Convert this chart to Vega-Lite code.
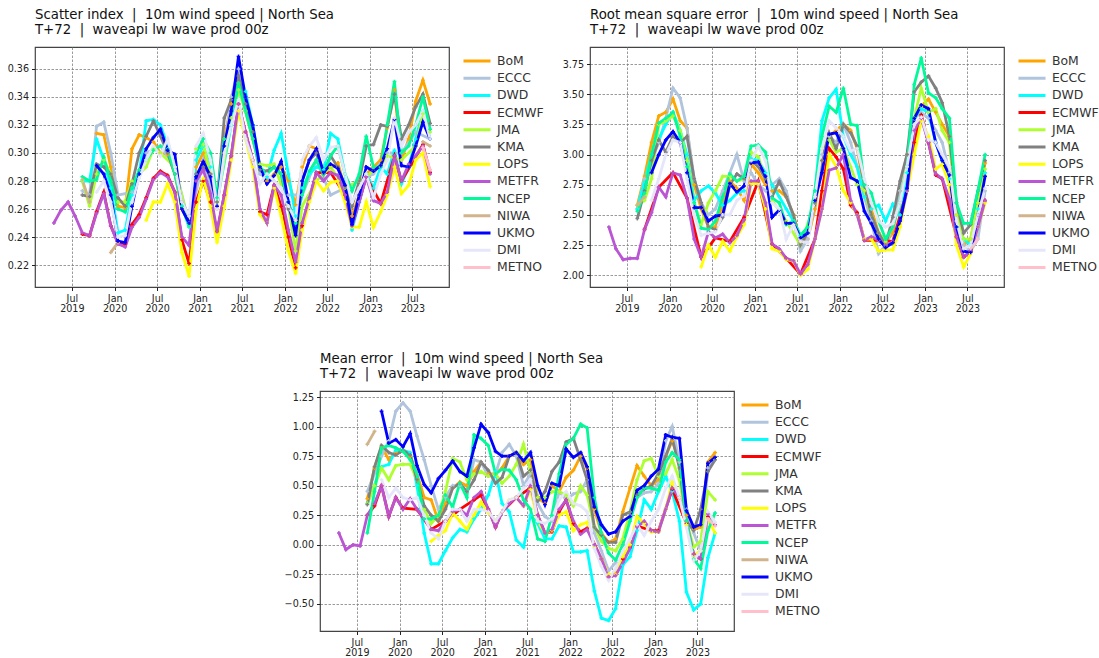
{"$schema":"https://vega.github.io/schema/vega-lite/v6.json","background":"white","padding":{"left":6,"top":7,"right":2,"bottom":2},
"config":{"font":"DejaVu Sans","view":{"stroke":"#444","strokeWidth":1.2},"title":{"anchor":"start","fontWeight":"normal","fontSize":13.3,"color":"#111","offset":10.5,"lineHeight":15,"frame":"group"},
"axis":{"title":null,"grid":true,"gridColor":"#808080","gridDash":[2.5,1.5],"gridWidth":0.8,"domain":false,"tickColor":"#222","tickSize":3.5,"labelColor":"#222","labelFontSize":9.6,"labelPadding":3,"labelLineHeight":10},
"legend":{"title":null,"orient":"right","offset":5,"padding":8,"symbolType":"stroke","symbolSize":729,"symbolStrokeWidth":3,"labelFontSize":12.4,"labelColor":"#333","labelOffset":5,"rowPadding":4.2,"clipHeight":12,"symbolOpacity":1}},
"datasets":{"si":[
{"m":"BoM","d":"2019-10-15","v":0.314},{"m":"BoM","d":"2019-11-15","v":0.313},{"m":"BoM","d":"2019-12-15","v":0.29},{"m":"BoM","d":"2020-01-15","v":0.262},{"m":"BoM","d":"2020-02-15","v":0.261},{"m":"BoM","d":"2020-03-15","v":0.303},{"m":"BoM","d":"2020-04-15","v":0.313},{"m":"BoM","d":"2020-05-15","v":0.311},{"m":"BoM","d":"2020-06-15","v":0.308},{"m":"BoM","d":"2020-07-15","v":0.3},{"m":"BoM","d":"2020-08-15","v":0.299},{"m":"BoM","d":"2020-09-15","v":0.285},{"m":"BoM","d":"2020-10-15","v":0.26},{"m":"BoM","d":"2020-11-15","v":0.25},{"m":"BoM","d":"2020-12-15","v":0.29},{"m":"BoM","d":"2021-01-15","v":0.3},{"m":"BoM","d":"2021-02-15","v":0.285},{"m":"BoM","d":"2021-03-15","v":0.26},{"m":"BoM","d":"2021-04-15","v":0.31},{"m":"BoM","d":"2021-05-15","v":0.335},{"m":"BoM","d":"2021-06-15","v":0.35},{"m":"BoM","d":"2021-07-15","v":0.33},{"m":"BoM","d":"2021-08-15","v":0.31},{"m":"BoM","d":"2021-09-15","v":0.29},{"m":"BoM","d":"2021-10-15","v":0.28},{"m":"BoM","d":"2021-11-15","v":0.285},{"m":"BoM","d":"2021-12-15","v":0.29},{"m":"BoM","d":"2022-01-15","v":0.28},{"m":"BoM","d":"2022-02-15","v":0.263},{"m":"BoM","d":"2022-03-15","v":0.29},{"m":"BoM","d":"2022-04-15","v":0.305},{"m":"BoM","d":"2022-05-15","v":0.303},{"m":"BoM","d":"2022-06-15","v":0.285},{"m":"BoM","d":"2022-07-15","v":0.29},{"m":"BoM","d":"2022-08-15","v":0.293},{"m":"BoM","d":"2022-09-15","v":0.275},{"m":"BoM","d":"2022-10-15","v":0.255},{"m":"BoM","d":"2022-11-15","v":0.27},{"m":"BoM","d":"2022-12-15","v":0.285},{"m":"BoM","d":"2023-01-15","v":0.29},{"m":"BoM","d":"2023-02-15","v":0.295},{"m":"BoM","d":"2023-03-15","v":0.318},{"m":"BoM","d":"2023-04-15","v":0.345},{"m":"BoM","d":"2023-05-15","v":0.295},{"m":"BoM","d":"2023-06-15","v":0.31},{"m":"BoM","d":"2023-07-15","v":0.337},{"m":"BoM","d":"2023-08-15","v":0.352},{"m":"BoM","d":"2023-09-15","v":0.335},
{"m":"ECCC","d":"2019-08-15","v":0.273},{"m":"ECCC","d":"2019-09-15","v":0.27},{"m":"ECCC","d":"2019-10-15","v":0.319},{"m":"ECCC","d":"2019-11-15","v":0.322},{"m":"ECCC","d":"2019-12-15","v":0.3},{"m":"ECCC","d":"2020-01-15","v":0.27},{"m":"ECCC","d":"2020-03-15","v":0.272},{"m":"ECCC","d":"2020-05-15","v":0.3},{"m":"ECCC","d":"2020-07-15","v":0.305},{"m":"ECCC","d":"2020-09-15","v":0.29},{"m":"ECCC","d":"2020-11-15","v":0.25},{"m":"ECCC","d":"2021-01-15","v":0.295},{"m":"ECCC","d":"2021-03-15","v":0.262},{"m":"ECCC","d":"2021-05-15","v":0.34},{"m":"ECCC","d":"2021-06-15","v":0.36},{"m":"ECCC","d":"2021-07-15","v":0.34},{"m":"ECCC","d":"2021-09-15","v":0.285},{"m":"ECCC","d":"2021-11-15","v":0.28},{"m":"ECCC","d":"2022-01-15","v":0.27},{"m":"ECCC","d":"2022-03-15","v":0.27},{"m":"ECCC","d":"2022-05-15","v":0.295},{"m":"ECCC","d":"2022-07-15","v":0.27},{"m":"ECCC","d":"2022-09-15","v":0.275},{"m":"ECCC","d":"2022-11-15","v":0.28},{"m":"ECCC","d":"2023-01-15","v":0.285},{"m":"ECCC","d":"2023-03-15","v":0.3},{"m":"ECCC","d":"2023-05-15","v":0.3},{"m":"ECCC","d":"2023-07-15","v":0.315},{"m":"ECCC","d":"2023-09-15","v":0.31},
{"m":"DWD","d":"2019-08-15","v":0.28},{"m":"DWD","d":"2019-09-15","v":0.28},{"m":"DWD","d":"2019-10-15","v":0.31},{"m":"DWD","d":"2019-11-15","v":0.295},{"m":"DWD","d":"2019-12-15","v":0.275},{"m":"DWD","d":"2020-01-15","v":0.243},{"m":"DWD","d":"2020-02-15","v":0.245},{"m":"DWD","d":"2020-03-15","v":0.27},{"m":"DWD","d":"2020-04-15","v":0.285},{"m":"DWD","d":"2020-05-15","v":0.323},{"m":"DWD","d":"2020-06-15","v":0.324},{"m":"DWD","d":"2020-07-15","v":0.32},{"m":"DWD","d":"2020-09-15","v":0.29},{"m":"DWD","d":"2020-10-15","v":0.262},{"m":"DWD","d":"2020-11-15","v":0.247},{"m":"DWD","d":"2020-12-15","v":0.295},{"m":"DWD","d":"2021-01-15","v":0.305},{"m":"DWD","d":"2021-02-15","v":0.29},{"m":"DWD","d":"2021-03-15","v":0.265},{"m":"DWD","d":"2021-05-15","v":0.32},{"m":"DWD","d":"2021-06-15","v":0.345},{"m":"DWD","d":"2021-07-15","v":0.344},{"m":"DWD","d":"2021-08-15","v":0.32},{"m":"DWD","d":"2021-09-15","v":0.29},{"m":"DWD","d":"2021-10-15","v":0.283},{"m":"DWD","d":"2021-11-15","v":0.302},{"m":"DWD","d":"2021-12-15","v":0.314},{"m":"DWD","d":"2022-01-15","v":0.285},{"m":"DWD","d":"2022-02-15","v":0.255},{"m":"DWD","d":"2022-03-15","v":0.275},{"m":"DWD","d":"2022-04-15","v":0.285},{"m":"DWD","d":"2022-05-15","v":0.29},{"m":"DWD","d":"2022-06-15","v":0.288},{"m":"DWD","d":"2022-07-15","v":0.314},{"m":"DWD","d":"2022-08-15","v":0.31},{"m":"DWD","d":"2022-09-15","v":0.285},{"m":"DWD","d":"2022-10-15","v":0.245},{"m":"DWD","d":"2022-11-15","v":0.265},{"m":"DWD","d":"2022-12-15","v":0.285},{"m":"DWD","d":"2023-01-15","v":0.275},{"m":"DWD","d":"2023-02-15","v":0.29},{"m":"DWD","d":"2023-03-15","v":0.285},{"m":"DWD","d":"2023-04-15","v":0.302},{"m":"DWD","d":"2023-05-15","v":0.278},{"m":"DWD","d":"2023-06-15","v":0.29},{"m":"DWD","d":"2023-07-15","v":0.31},{"m":"DWD","d":"2023-08-15","v":0.33},{"m":"DWD","d":"2023-09-15","v":0.31},
{"m":"ECMWF","d":"2019-08-15","v":0.242},{"m":"ECMWF","d":"2019-09-15","v":0.241},{"m":"ECMWF","d":"2019-10-15","v":0.258},{"m":"ECMWF","d":"2019-11-15","v":0.272},{"m":"ECMWF","d":"2019-12-15","v":0.248},{"m":"ECMWF","d":"2020-01-15","v":0.236},{"m":"ECMWF","d":"2020-02-15","v":0.235},{"m":"ECMWF","d":"2020-03-15","v":0.249},{"m":"ECMWF","d":"2020-04-15","v":0.256},{"m":"ECMWF","d":"2020-05-15","v":0.268},{"m":"ECMWF","d":"2020-06-15","v":0.282},{"m":"ECMWF","d":"2020-07-15","v":0.287},{"m":"ECMWF","d":"2020-08-15","v":0.284},{"m":"ECMWF","d":"2020-09-15","v":0.272},{"m":"ECMWF","d":"2020-10-15","v":0.238},{"m":"ECMWF","d":"2020-11-15","v":0.221},{"m":"ECMWF","d":"2020-12-15","v":0.265},{"m":"ECMWF","d":"2021-01-15","v":0.28},{"m":"ECMWF","d":"2021-02-15","v":0.265},{"m":"ECMWF","d":"2021-03-15","v":0.244},{"m":"ECMWF","d":"2021-04-15","v":0.27},{"m":"ECMWF","d":"2021-05-15","v":0.298},{"m":"ECMWF","d":"2021-06-15","v":0.335},{"m":"ECMWF","d":"2021-07-15","v":0.315},{"m":"ECMWF","d":"2021-08-15","v":0.295},{"m":"ECMWF","d":"2021-09-15","v":0.258},{"m":"ECMWF","d":"2021-10-15","v":0.256},{"m":"ECMWF","d":"2021-11-15","v":0.277},{"m":"ECMWF","d":"2021-12-15","v":0.262},{"m":"ECMWF","d":"2022-01-15","v":0.24},{"m":"ECMWF","d":"2022-02-15","v":0.218},{"m":"ECMWF","d":"2022-03-15","v":0.248},{"m":"ECMWF","d":"2022-05-15","v":0.286},{"m":"ECMWF","d":"2022-07-15","v":0.286},{"m":"ECMWF","d":"2022-09-15","v":0.27},{"m":"ECMWF","d":"2022-10-15","v":0.248},{"m":"ECMWF","d":"2022-12-15","v":0.283},{"m":"ECMWF","d":"2023-02-15","v":0.264},{"m":"ECMWF","d":"2023-04-15","v":0.298},{"m":"ECMWF","d":"2023-05-15","v":0.28},{"m":"ECMWF","d":"2023-08-15","v":0.306},{"m":"ECMWF","d":"2023-09-15","v":0.286},
{"m":"JMA","d":"2019-08-15","v":0.28},{"m":"JMA","d":"2019-09-15","v":0.262},{"m":"JMA","d":"2019-10-15","v":0.285},{"m":"JMA","d":"2019-11-15","v":0.295},{"m":"JMA","d":"2019-12-15","v":0.285},{"m":"JMA","d":"2020-01-15","v":0.265},{"m":"JMA","d":"2020-02-15","v":0.265},{"m":"JMA","d":"2020-03-15","v":0.28},{"m":"JMA","d":"2020-05-15","v":0.29},{"m":"JMA","d":"2020-06-15","v":0.303},{"m":"JMA","d":"2020-07-15","v":0.3},{"m":"JMA","d":"2020-09-15","v":0.29},{"m":"JMA","d":"2020-11-15","v":0.248},{"m":"JMA","d":"2020-12-15","v":0.303},{"m":"JMA","d":"2021-01-15","v":0.306},{"m":"JMA","d":"2021-03-15","v":0.265},{"m":"JMA","d":"2021-05-15","v":0.325},{"m":"JMA","d":"2021-06-15","v":0.345},{"m":"JMA","d":"2021-07-15","v":0.33},{"m":"JMA","d":"2021-09-15","v":0.292},{"m":"JMA","d":"2021-10-15","v":0.291},{"m":"JMA","d":"2021-11-15","v":0.292},{"m":"JMA","d":"2022-01-15","v":0.262},{"m":"JMA","d":"2022-02-15","v":0.23},{"m":"JMA","d":"2022-03-15","v":0.262},{"m":"JMA","d":"2022-05-15","v":0.28},{"m":"JMA","d":"2022-07-15","v":0.29},{"m":"JMA","d":"2022-09-15","v":0.275},{"m":"JMA","d":"2022-11-15","v":0.28},{"m":"JMA","d":"2023-01-15","v":0.287},{"m":"JMA","d":"2023-02-15","v":0.291},{"m":"JMA","d":"2023-03-15","v":0.298},{"m":"JMA","d":"2023-05-15","v":0.295},{"m":"JMA","d":"2023-07-15","v":0.305},{"m":"JMA","d":"2023-08-15","v":0.328},{"m":"JMA","d":"2023-09-15","v":0.315},
{"m":"KMA","d":"2019-08-15","v":0.27},{"m":"KMA","d":"2019-09-15","v":0.269},{"m":"KMA","d":"2019-10-15","v":0.292},{"m":"KMA","d":"2019-11-15","v":0.29},{"m":"KMA","d":"2019-12-15","v":0.285},{"m":"KMA","d":"2020-01-15","v":0.268},{"m":"KMA","d":"2020-02-15","v":0.262},{"m":"KMA","d":"2020-03-15","v":0.278},{"m":"KMA","d":"2020-04-15","v":0.3},{"m":"KMA","d":"2020-05-15","v":0.312},{"m":"KMA","d":"2020-06-15","v":0.323},{"m":"KMA","d":"2020-07-15","v":0.312},{"m":"KMA","d":"2020-08-15","v":0.3},{"m":"KMA","d":"2020-09-15","v":0.285},{"m":"KMA","d":"2020-10-15","v":0.265},{"m":"KMA","d":"2020-11-15","v":0.255},{"m":"KMA","d":"2020-12-15","v":0.285},{"m":"KMA","d":"2021-01-15","v":0.29},{"m":"KMA","d":"2021-02-15","v":0.285},{"m":"KMA","d":"2021-03-15","v":0.265},{"m":"KMA","d":"2021-04-15","v":0.325},{"m":"KMA","d":"2021-05-15","v":0.338},{"m":"KMA","d":"2021-06-15","v":0.355},{"m":"KMA","d":"2021-07-15","v":0.335},{"m":"KMA","d":"2021-08-15","v":0.315},{"m":"KMA","d":"2021-09-15","v":0.288},{"m":"KMA","d":"2021-10-15","v":0.287},{"m":"KMA","d":"2021-11-15","v":0.29},{"m":"KMA","d":"2021-12-15","v":0.285},{"m":"KMA","d":"2022-01-15","v":0.26},{"m":"KMA","d":"2022-02-15","v":0.252},{"m":"KMA","d":"2022-03-15","v":0.28},{"m":"KMA","d":"2022-04-15","v":0.295},{"m":"KMA","d":"2022-05-15","v":0.3},{"m":"KMA","d":"2022-06-15","v":0.285},{"m":"KMA","d":"2022-07-15","v":0.298},{"m":"KMA","d":"2022-08-15","v":0.29},{"m":"KMA","d":"2022-09-15","v":0.275},{"m":"KMA","d":"2022-10-15","v":0.262},{"m":"KMA","d":"2022-11-15","v":0.28},{"m":"KMA","d":"2022-12-15","v":0.305},{"m":"KMA","d":"2023-01-15","v":0.306},{"m":"KMA","d":"2023-02-15","v":0.32},{"m":"KMA","d":"2023-03-15","v":0.319},{"m":"KMA","d":"2023-04-15","v":0.342},{"m":"KMA","d":"2023-05-15","v":0.31},{"m":"KMA","d":"2023-06-15","v":0.32},{"m":"KMA","d":"2023-07-15","v":0.333},{"m":"KMA","d":"2023-08-15","v":0.342},{"m":"KMA","d":"2023-09-15","v":0.321},
{"m":"LOPS","d":"2020-05-15","v":0.252},{"m":"LOPS","d":"2020-06-15","v":0.265},{"m":"LOPS","d":"2020-07-15","v":0.265},{"m":"LOPS","d":"2020-08-15","v":0.278},{"m":"LOPS","d":"2020-09-15","v":0.265},{"m":"LOPS","d":"2020-10-15","v":0.229},{"m":"LOPS","d":"2020-11-15","v":0.212},{"m":"LOPS","d":"2020-12-15","v":0.26},{"m":"LOPS","d":"2021-01-15","v":0.282},{"m":"LOPS","d":"2021-02-15","v":0.262},{"m":"LOPS","d":"2021-03-15","v":0.236},{"m":"LOPS","d":"2021-04-15","v":0.262},{"m":"LOPS","d":"2021-05-15","v":0.295},{"m":"LOPS","d":"2021-06-15","v":0.33},{"m":"LOPS","d":"2021-07-15","v":0.31},{"m":"LOPS","d":"2021-08-15","v":0.29},{"m":"LOPS","d":"2021-09-15","v":0.256},{"m":"LOPS","d":"2021-10-15","v":0.25},{"m":"LOPS","d":"2021-11-15","v":0.275},{"m":"LOPS","d":"2021-12-15","v":0.255},{"m":"LOPS","d":"2022-01-15","v":0.23},{"m":"LOPS","d":"2022-02-15","v":0.214},{"m":"LOPS","d":"2022-03-15","v":0.245},{"m":"LOPS","d":"2022-04-15","v":0.265},{"m":"LOPS","d":"2022-05-15","v":0.28},{"m":"LOPS","d":"2022-06-15","v":0.273},{"m":"LOPS","d":"2022-07-15","v":0.279},{"m":"LOPS","d":"2022-08-15","v":0.28},{"m":"LOPS","d":"2022-09-15","v":0.265},{"m":"LOPS","d":"2022-10-15","v":0.247},{"m":"LOPS","d":"2022-11-15","v":0.247},{"m":"LOPS","d":"2022-12-15","v":0.265},{"m":"LOPS","d":"2023-01-15","v":0.247},{"m":"LOPS","d":"2023-02-15","v":0.258},{"m":"LOPS","d":"2023-03-15","v":0.27},{"m":"LOPS","d":"2023-04-15","v":0.29},{"m":"LOPS","d":"2023-05-15","v":0.271},{"m":"LOPS","d":"2023-06-15","v":0.277},{"m":"LOPS","d":"2023-07-15","v":0.295},{"m":"LOPS","d":"2023-08-15","v":0.3},{"m":"LOPS","d":"2023-09-15","v":0.276},
{"m":"METFR","d":"2019-04-15","v":0.25},{"m":"METFR","d":"2019-05-15","v":0.259},{"m":"METFR","d":"2019-06-15","v":0.265},{"m":"METFR","d":"2019-07-15","v":0.255},{"m":"METFR","d":"2019-08-15","v":0.243},{"m":"METFR","d":"2019-09-15","v":0.241},{"m":"METFR","d":"2019-10-15","v":0.257},{"m":"METFR","d":"2019-11-15","v":0.271},{"m":"METFR","d":"2019-12-15","v":0.248},{"m":"METFR","d":"2020-01-15","v":0.235},{"m":"METFR","d":"2020-02-15","v":0.233},{"m":"METFR","d":"2020-03-15","v":0.247},{"m":"METFR","d":"2020-04-15","v":0.254},{"m":"METFR","d":"2020-05-15","v":0.267},{"m":"METFR","d":"2020-06-15","v":0.281},{"m":"METFR","d":"2020-07-15","v":0.286},{"m":"METFR","d":"2020-08-15","v":0.283},{"m":"METFR","d":"2020-09-15","v":0.272},{"m":"METFR","d":"2020-10-15","v":0.24},{"m":"METFR","d":"2020-11-15","v":0.234},{"m":"METFR","d":"2020-12-15","v":0.28},{"m":"METFR","d":"2021-01-15","v":0.288},{"m":"METFR","d":"2021-02-15","v":0.271},{"m":"METFR","d":"2021-03-15","v":0.244},{"m":"METFR","d":"2021-04-15","v":0.27},{"m":"METFR","d":"2021-05-15","v":0.298},{"m":"METFR","d":"2021-06-15","v":0.335},{"m":"METFR","d":"2021-07-15","v":0.315},{"m":"METFR","d":"2021-08-15","v":0.295},{"m":"METFR","d":"2021-09-15","v":0.26},{"m":"METFR","d":"2021-10-15","v":0.25},{"m":"METFR","d":"2021-11-15","v":0.277},{"m":"METFR","d":"2021-12-15","v":0.27},{"m":"METFR","d":"2022-01-15","v":0.245},{"m":"METFR","d":"2022-02-15","v":0.222},{"m":"METFR","d":"2022-03-15","v":0.25},{"m":"METFR","d":"2022-04-15","v":0.268},{"m":"METFR","d":"2022-05-15","v":0.286},{"m":"METFR","d":"2022-06-15","v":0.28},{"m":"METFR","d":"2022-07-15","v":0.286},{"m":"METFR","d":"2022-08-15","v":0.284},{"m":"METFR","d":"2022-09-15","v":0.27},{"m":"METFR","d":"2022-10-15","v":0.248},{"m":"METFR","d":"2022-11-15","v":0.265},{"m":"METFR","d":"2022-12-15","v":0.283},{"m":"METFR","d":"2023-01-15","v":0.266},{"m":"METFR","d":"2023-02-15","v":0.264},{"m":"METFR","d":"2023-03-15","v":0.272},{"m":"METFR","d":"2023-04-15","v":0.298},{"m":"METFR","d":"2023-05-15","v":0.28},{"m":"METFR","d":"2023-06-15","v":0.292},{"m":"METFR","d":"2023-07-15","v":0.298},{"m":"METFR","d":"2023-08-15","v":0.305},{"m":"METFR","d":"2023-09-15","v":0.285},
{"m":"NCEP","d":"2019-08-15","v":0.283},{"m":"NCEP","d":"2019-09-15","v":0.28},{"m":"NCEP","d":"2019-10-15","v":0.281},{"m":"NCEP","d":"2019-11-15","v":0.297},{"m":"NCEP","d":"2019-12-15","v":0.28},{"m":"NCEP","d":"2020-01-15","v":0.26},{"m":"NCEP","d":"2020-02-15","v":0.258},{"m":"NCEP","d":"2020-03-15","v":0.275},{"m":"NCEP","d":"2020-04-15","v":0.288},{"m":"NCEP","d":"2020-05-15","v":0.295},{"m":"NCEP","d":"2020-06-15","v":0.302},{"m":"NCEP","d":"2020-07-15","v":0.305},{"m":"NCEP","d":"2020-08-15","v":0.303},{"m":"NCEP","d":"2020-09-15","v":0.285},{"m":"NCEP","d":"2020-10-15","v":0.262},{"m":"NCEP","d":"2020-11-15","v":0.248},{"m":"NCEP","d":"2020-12-15","v":0.3},{"m":"NCEP","d":"2021-01-15","v":0.31},{"m":"NCEP","d":"2021-02-15","v":0.3},{"m":"NCEP","d":"2021-03-15","v":0.268},{"m":"NCEP","d":"2021-04-15","v":0.31},{"m":"NCEP","d":"2021-05-15","v":0.32},{"m":"NCEP","d":"2021-06-15","v":0.35},{"m":"NCEP","d":"2021-07-15","v":0.33},{"m":"NCEP","d":"2021-08-15","v":0.31},{"m":"NCEP","d":"2021-09-15","v":0.29},{"m":"NCEP","d":"2021-10-15","v":0.285},{"m":"NCEP","d":"2021-11-15","v":0.29},{"m":"NCEP","d":"2021-12-15","v":0.285},{"m":"NCEP","d":"2022-01-15","v":0.265},{"m":"NCEP","d":"2022-02-15","v":0.25},{"m":"NCEP","d":"2022-03-15","v":0.27},{"m":"NCEP","d":"2022-04-15","v":0.287},{"m":"NCEP","d":"2022-05-15","v":0.295},{"m":"NCEP","d":"2022-06-15","v":0.285},{"m":"NCEP","d":"2022-07-15","v":0.298},{"m":"NCEP","d":"2022-08-15","v":0.305},{"m":"NCEP","d":"2022-09-15","v":0.285},{"m":"NCEP","d":"2022-10-15","v":0.273},{"m":"NCEP","d":"2022-11-15","v":0.285},{"m":"NCEP","d":"2022-12-15","v":0.312},{"m":"NCEP","d":"2023-01-15","v":0.29},{"m":"NCEP","d":"2023-02-15","v":0.29},{"m":"NCEP","d":"2023-03-15","v":0.32},{"m":"NCEP","d":"2023-04-15","v":0.351},{"m":"NCEP","d":"2023-05-15","v":0.3},{"m":"NCEP","d":"2023-06-15","v":0.305},{"m":"NCEP","d":"2023-07-15","v":0.32},{"m":"NCEP","d":"2023-08-15","v":0.34},{"m":"NCEP","d":"2023-09-15","v":0.317},
{"m":"NIWA","d":"2019-08-15","v":0.281},{"m":"NIWA","d":"2019-09-15","v":0.265},{"m":"NIWA","d":"2019-10-15","v":null},{"m":"NIWA","d":"2019-12-15","v":0.229},{"m":"NIWA","d":"2020-01-15","v":0.236},{"m":"NIWA","d":"2020-02-15","v":null},{"m":"NIWA","d":"2023-08-15","v":0.308},{"m":"NIWA","d":"2023-09-15","v":0.305},
{"m":"UKMO","d":"2019-10-15","v":0.291},{"m":"UKMO","d":"2019-11-15","v":0.285},{"m":"UKMO","d":"2019-12-15","v":0.27},{"m":"UKMO","d":"2020-01-15","v":0.237},{"m":"UKMO","d":"2020-02-15","v":0.236},{"m":"UKMO","d":"2020-03-15","v":0.262},{"m":"UKMO","d":"2020-04-15","v":0.285},{"m":"UKMO","d":"2020-05-15","v":0.303},{"m":"UKMO","d":"2020-06-15","v":0.311},{"m":"UKMO","d":"2020-07-15","v":0.317},{"m":"UKMO","d":"2020-08-15","v":0.302},{"m":"UKMO","d":"2020-09-15","v":0.299},{"m":"UKMO","d":"2020-10-15","v":0.26},{"m":"UKMO","d":"2020-11-15","v":0.25},{"m":"UKMO","d":"2020-12-15","v":0.283},{"m":"UKMO","d":"2021-01-15","v":0.294},{"m":"UKMO","d":"2021-02-15","v":0.283},{"m":"UKMO","d":"2021-03-15","v":0.262},{"m":"UKMO","d":"2021-04-15","v":0.305},{"m":"UKMO","d":"2021-05-15","v":0.33},{"m":"UKMO","d":"2021-06-15","v":0.369},{"m":"UKMO","d":"2021-07-15","v":0.34},{"m":"UKMO","d":"2021-08-15","v":0.32},{"m":"UKMO","d":"2021-09-15","v":0.29},{"m":"UKMO","d":"2021-10-15","v":0.278},{"m":"UKMO","d":"2021-11-15","v":0.284},{"m":"UKMO","d":"2021-12-15","v":0.294},{"m":"UKMO","d":"2022-01-15","v":0.265},{"m":"UKMO","d":"2022-02-15","v":0.241},{"m":"UKMO","d":"2022-03-15","v":0.28},{"m":"UKMO","d":"2022-04-15","v":0.295},{"m":"UKMO","d":"2022-05-15","v":0.303},{"m":"UKMO","d":"2022-06-15","v":0.286},{"m":"UKMO","d":"2022-07-15","v":0.292},{"m":"UKMO","d":"2022-08-15","v":0.289},{"m":"UKMO","d":"2022-09-15","v":0.277},{"m":"UKMO","d":"2022-10-15","v":0.249},{"m":"UKMO","d":"2022-11-15","v":0.27},{"m":"UKMO","d":"2022-12-15","v":0.29},{"m":"UKMO","d":"2023-01-15","v":0.287},{"m":"UKMO","d":"2023-02-15","v":0.291},{"m":"UKMO","d":"2023-03-15","v":0.303},{"m":"UKMO","d":"2023-04-15","v":0.324},{"m":"UKMO","d":"2023-05-15","v":0.291},{"m":"UKMO","d":"2023-06-15","v":0.29},{"m":"UKMO","d":"2023-07-15","v":0.305},{"m":"UKMO","d":"2023-08-15","v":0.322},{"m":"UKMO","d":"2023-09-15","v":0.31},
{"m":"DMI","d":"2019-10-15","v":0.272},{"m":"DMI","d":"2019-11-15","v":0.28},{"m":"DMI","d":"2019-12-15","v":0.265},{"m":"DMI","d":"2020-01-15","v":0.24},{"m":"DMI","d":"2020-02-15","v":0.241},{"m":"DMI","d":"2020-03-15","v":0.265},{"m":"DMI","d":"2020-04-15","v":0.282},{"m":"DMI","d":"2020-05-15","v":0.295},{"m":"DMI","d":"2020-06-15","v":0.305},{"m":"DMI","d":"2020-07-15","v":0.298},{"m":"DMI","d":"2020-08-15","v":0.31},{"m":"DMI","d":"2020-09-15","v":0.29},{"m":"DMI","d":"2020-10-15","v":0.265},{"m":"DMI","d":"2020-11-15","v":0.255},{"m":"DMI","d":"2020-12-15","v":0.305},{"m":"DMI","d":"2021-01-15","v":0.314},{"m":"DMI","d":"2021-02-15","v":0.295},{"m":"DMI","d":"2021-03-15","v":0.26},{"m":"DMI","d":"2021-04-15","v":0.3},{"m":"DMI","d":"2021-05-15","v":0.32},{"m":"DMI","d":"2021-06-15","v":0.338},{"m":"DMI","d":"2021-07-15","v":0.31},{"m":"DMI","d":"2021-08-15","v":0.295},{"m":"DMI","d":"2021-09-15","v":0.278},{"m":"DMI","d":"2021-10-15","v":0.285},{"m":"DMI","d":"2021-11-15","v":0.28},{"m":"DMI","d":"2021-12-15","v":0.275},{"m":"DMI","d":"2022-01-15","v":0.262},{"m":"DMI","d":"2022-02-15","v":0.252},{"m":"DMI","d":"2022-03-15","v":0.295},{"m":"DMI","d":"2022-04-15","v":0.305},{"m":"DMI","d":"2022-05-15","v":0.311},{"m":"DMI","d":"2022-06-15","v":0.295},{"m":"DMI","d":"2022-07-15","v":0.304},{"m":"DMI","d":"2022-08-15","v":0.305},{"m":"DMI","d":"2022-09-15","v":0.285},{"m":"DMI","d":"2022-10-15","v":0.265},{"m":"DMI","d":"2022-11-15","v":0.275},{"m":"DMI","d":"2022-12-15","v":0.285},{"m":"DMI","d":"2023-01-15","v":0.268},{"m":"DMI","d":"2023-02-15","v":0.285},{"m":"DMI","d":"2023-03-15","v":0.295},{"m":"DMI","d":"2023-04-15","v":0.325},{"m":"DMI","d":"2023-05-15","v":0.305},{"m":"DMI","d":"2023-06-15","v":0.315},{"m":"DMI","d":"2023-07-15","v":0.32},{"m":"DMI","d":"2023-08-15","v":0.33},{"m":"DMI","d":"2023-09-15","v":0.31},
{"m":"METNO","d":"2023-08-15","v":0.304},{"m":"METNO","d":"2023-09-15","v":0.288}
],"rm":[
{"m":"BoM","d":"2019-08-15","v":2.58},{"m":"BoM","d":"2019-09-15","v":2.82},{"m":"BoM","d":"2019-10-15","v":3.1},{"m":"BoM","d":"2019-11-15","v":3.32},{"m":"BoM","d":"2019-12-15","v":3.35},{"m":"BoM","d":"2020-01-15","v":3.46},{"m":"BoM","d":"2020-02-15","v":3.28},{"m":"BoM","d":"2020-03-15","v":3.22},{"m":"BoM","d":"2020-04-15","v":2.75},{"m":"BoM","d":"2020-05-15","v":2.55},{"m":"BoM","d":"2020-06-15","v":2.4},{"m":"BoM","d":"2020-07-15","v":2.4},{"m":"BoM","d":"2020-09-15","v":2.78},{"m":"BoM","d":"2020-10-15","v":2.72},{"m":"BoM","d":"2020-11-15","v":2.62},{"m":"BoM","d":"2020-12-15","v":2.92},{"m":"BoM","d":"2021-01-15","v":2.85},{"m":"BoM","d":"2021-02-15","v":2.75},{"m":"BoM","d":"2021-03-15","v":2.7},{"m":"BoM","d":"2021-04-15","v":2.7},{"m":"BoM","d":"2021-05-15","v":2.65},{"m":"BoM","d":"2021-06-15","v":2.5},{"m":"BoM","d":"2021-07-15","v":2.28},{"m":"BoM","d":"2021-08-15","v":2.3},{"m":"BoM","d":"2021-09-15","v":2.55},{"m":"BoM","d":"2021-10-15","v":2.95},{"m":"BoM","d":"2021-11-15","v":3.15},{"m":"BoM","d":"2021-12-15","v":3.2},{"m":"BoM","d":"2022-01-15","v":3.25},{"m":"BoM","d":"2022-02-15","v":3.2},{"m":"BoM","d":"2022-03-15","v":3.05},{"m":"BoM","d":"2022-04-15","v":2.7},{"m":"BoM","d":"2022-05-15","v":2.55},{"m":"BoM","d":"2022-06-15","v":2.35},{"m":"BoM","d":"2022-07-15","v":2.27},{"m":"BoM","d":"2022-08-15","v":2.35},{"m":"BoM","d":"2022-09-15","v":2.7},{"m":"BoM","d":"2022-10-15","v":3},{"m":"BoM","d":"2022-11-15","v":3.3},{"m":"BoM","d":"2022-12-15","v":3.4},{"m":"BoM","d":"2023-01-15","v":3.46},{"m":"BoM","d":"2023-02-15","v":3.35},{"m":"BoM","d":"2023-03-15","v":3.25},{"m":"BoM","d":"2023-04-15","v":3.15},{"m":"BoM","d":"2023-05-15","v":2.5},{"m":"BoM","d":"2023-06-15","v":2.25},{"m":"BoM","d":"2023-07-15","v":2.3},{"m":"BoM","d":"2023-08-15","v":2.6},{"m":"BoM","d":"2023-09-15","v":2.93},
{"m":"ECCC","d":"2019-08-15","v":2.55},{"m":"ECCC","d":"2019-09-15","v":2.8},{"m":"ECCC","d":"2019-11-15","v":3.1},{"m":"ECCC","d":"2019-12-15","v":3.3},{"m":"ECCC","d":"2020-01-15","v":3.55},{"m":"ECCC","d":"2020-02-15","v":3.47},{"m":"ECCC","d":"2020-03-15","v":3.22},{"m":"ECCC","d":"2020-04-15","v":2.8},{"m":"ECCC","d":"2020-05-15","v":2.6},{"m":"ECCC","d":"2020-06-15","v":2.5},{"m":"ECCC","d":"2020-07-15","v":2.55},{"m":"ECCC","d":"2020-08-15","v":2.7},{"m":"ECCC","d":"2020-09-15","v":2.85},{"m":"ECCC","d":"2020-10-15","v":3},{"m":"ECCC","d":"2020-11-15","v":2.78},{"m":"ECCC","d":"2020-12-15","v":2.85},{"m":"ECCC","d":"2021-01-15","v":2.75},{"m":"ECCC","d":"2021-02-15","v":2.7},{"m":"ECCC","d":"2021-03-15","v":2.75},{"m":"ECCC","d":"2021-04-15","v":2.8},{"m":"ECCC","d":"2021-05-15","v":2.7},{"m":"ECCC","d":"2021-06-15","v":2.45},{"m":"ECCC","d":"2021-07-15","v":2.2},{"m":"ECCC","d":"2021-08-15","v":2.3},{"m":"ECCC","d":"2021-09-15","v":2.6},{"m":"ECCC","d":"2021-10-15","v":3},{"m":"ECCC","d":"2021-11-15","v":3.15},{"m":"ECCC","d":"2021-12-15","v":3.1},{"m":"ECCC","d":"2022-01-15","v":3.25},{"m":"ECCC","d":"2022-02-15","v":3.1},{"m":"ECCC","d":"2022-03-15","v":2.9},{"m":"ECCC","d":"2022-04-15","v":2.65},{"m":"ECCC","d":"2022-05-15","v":2.45},{"m":"ECCC","d":"2022-06-15","v":2.18},{"m":"ECCC","d":"2022-07-15","v":2.25},{"m":"ECCC","d":"2022-08-15","v":2.4},{"m":"ECCC","d":"2022-09-15","v":2.7},{"m":"ECCC","d":"2022-10-15","v":3},{"m":"ECCC","d":"2022-11-15","v":3.3},{"m":"ECCC","d":"2022-12-15","v":3.35},{"m":"ECCC","d":"2023-01-15","v":3.3},{"m":"ECCC","d":"2023-02-15","v":3.2},{"m":"ECCC","d":"2023-03-15","v":3.1},{"m":"ECCC","d":"2023-04-15","v":2.85},{"m":"ECCC","d":"2023-05-15","v":2.4},{"m":"ECCC","d":"2023-06-15","v":2.25},{"m":"ECCC","d":"2023-07-15","v":2.2},{"m":"ECCC","d":"2023-08-15","v":2.3},{"m":"ECCC","d":"2023-09-15","v":2.7},
{"m":"DWD","d":"2019-08-15","v":2.55},{"m":"DWD","d":"2019-10-15","v":3},{"m":"DWD","d":"2019-12-15","v":3.25},{"m":"DWD","d":"2020-01-15","v":3.35},{"m":"DWD","d":"2020-02-15","v":3.2},{"m":"DWD","d":"2020-03-15","v":3},{"m":"DWD","d":"2020-04-15","v":2.62},{"m":"DWD","d":"2020-05-15","v":2.7},{"m":"DWD","d":"2020-06-15","v":2.74},{"m":"DWD","d":"2020-07-15","v":2.68},{"m":"DWD","d":"2020-08-15","v":2.58},{"m":"DWD","d":"2020-09-15","v":2.62},{"m":"DWD","d":"2020-10-15","v":2.68},{"m":"DWD","d":"2020-11-15","v":2.7},{"m":"DWD","d":"2020-12-15","v":2.97},{"m":"DWD","d":"2021-01-15","v":2.95},{"m":"DWD","d":"2021-02-15","v":2.85},{"m":"DWD","d":"2021-03-15","v":2.75},{"m":"DWD","d":"2021-04-15","v":2.65},{"m":"DWD","d":"2021-05-15","v":2.55},{"m":"DWD","d":"2021-06-15","v":2.45},{"m":"DWD","d":"2021-07-15","v":2.33},{"m":"DWD","d":"2021-08-15","v":2.35},{"m":"DWD","d":"2021-09-15","v":2.7},{"m":"DWD","d":"2021-10-15","v":3.28},{"m":"DWD","d":"2021-11-15","v":3.47},{"m":"DWD","d":"2021-12-15","v":3.54},{"m":"DWD","d":"2022-01-15","v":3.15},{"m":"DWD","d":"2022-02-15","v":3},{"m":"DWD","d":"2022-03-15","v":2.9},{"m":"DWD","d":"2022-04-15","v":2.65},{"m":"DWD","d":"2022-05-15","v":2.55},{"m":"DWD","d":"2022-06-15","v":2.58},{"m":"DWD","d":"2022-07-15","v":2.45},{"m":"DWD","d":"2022-08-15","v":2.59},{"m":"DWD","d":"2022-09-15","v":2.5},{"m":"DWD","d":"2022-10-15","v":2.85},{"m":"DWD","d":"2022-11-15","v":3.3},{"m":"DWD","d":"2022-12-15","v":3.38},{"m":"DWD","d":"2023-01-15","v":3.35},{"m":"DWD","d":"2023-02-15","v":3.1},{"m":"DWD","d":"2023-03-15","v":2.95},{"m":"DWD","d":"2023-04-15","v":2.8},{"m":"DWD","d":"2023-05-15","v":2.4},{"m":"DWD","d":"2023-06-15","v":2.3},{"m":"DWD","d":"2023-07-15","v":2.25},{"m":"DWD","d":"2023-08-15","v":2.55},{"m":"DWD","d":"2023-09-15","v":2.85},
{"m":"ECMWF","d":"2019-09-15","v":2.38},{"m":"ECMWF","d":"2019-11-15","v":2.73},{"m":"ECMWF","d":"2020-01-15","v":2.85},{"m":"ECMWF","d":"2020-03-15","v":2.64},{"m":"ECMWF","d":"2020-05-15","v":2.15},{"m":"ECMWF","d":"2020-07-15","v":2.31},{"m":"ECMWF","d":"2020-09-15","v":2.28},{"m":"ECMWF","d":"2020-11-15","v":2.48},{"m":"ECMWF","d":"2021-01-15","v":2.78},{"m":"ECMWF","d":"2021-03-15","v":2.26},{"m":"ECMWF","d":"2021-05-15","v":2.14},{"m":"ECMWF","d":"2021-07-15","v":2.01},{"m":"ECMWF","d":"2021-09-15","v":2.3},{"m":"ECMWF","d":"2021-10-15","v":2.7},{"m":"ECMWF","d":"2021-11-15","v":3.05},{"m":"ECMWF","d":"2021-12-15","v":2.98},{"m":"ECMWF","d":"2022-01-15","v":2.88},{"m":"ECMWF","d":"2022-02-15","v":2.58},{"m":"ECMWF","d":"2022-03-15","v":2.52},{"m":"ECMWF","d":"2022-04-15","v":2.29},{"m":"ECMWF","d":"2022-06-15","v":2.29},{"m":"ECMWF","d":"2022-08-15","v":2.28},{"m":"ECMWF","d":"2022-10-15","v":2.7},{"m":"ECMWF","d":"2022-11-15","v":3.1},{"m":"ECMWF","d":"2022-12-15","v":3.33},{"m":"ECMWF","d":"2023-01-15","v":3.1},{"m":"ECMWF","d":"2023-02-15","v":2.83},{"m":"ECMWF","d":"2023-03-15","v":2.8},{"m":"ECMWF","d":"2023-05-15","v":2.32},{"m":"ECMWF","d":"2023-06-15","v":2.15},{"m":"ECMWF","d":"2023-07-15","v":2.2},{"m":"ECMWF","d":"2023-09-15","v":2.62},
{"m":"JMA","d":"2019-08-15","v":2.58},{"m":"JMA","d":"2019-09-15","v":2.62},{"m":"JMA","d":"2019-10-15","v":2.8},{"m":"JMA","d":"2019-11-15","v":3.25},{"m":"JMA","d":"2019-12-15","v":3.28},{"m":"JMA","d":"2020-01-15","v":3.32},{"m":"JMA","d":"2020-02-15","v":3.2},{"m":"JMA","d":"2020-03-15","v":2.95},{"m":"JMA","d":"2020-04-15","v":2.6},{"m":"JMA","d":"2020-05-15","v":2.42},{"m":"JMA","d":"2020-06-15","v":2.6},{"m":"JMA","d":"2020-07-15","v":2.7},{"m":"JMA","d":"2020-08-15","v":2.82},{"m":"JMA","d":"2020-09-15","v":2.82},{"m":"JMA","d":"2020-10-15","v":2.78},{"m":"JMA","d":"2020-11-15","v":2.8},{"m":"JMA","d":"2020-12-15","v":3.02},{"m":"JMA","d":"2021-01-15","v":2.98},{"m":"JMA","d":"2021-03-15","v":2.62},{"m":"JMA","d":"2021-05-15","v":2.45},{"m":"JMA","d":"2021-07-15","v":2.25},{"m":"JMA","d":"2021-09-15","v":2.6},{"m":"JMA","d":"2021-10-15","v":3.05},{"m":"JMA","d":"2021-11-15","v":3.12},{"m":"JMA","d":"2021-12-15","v":3.02},{"m":"JMA","d":"2022-01-15","v":3.05},{"m":"JMA","d":"2022-02-15","v":2.9},{"m":"JMA","d":"2022-03-15","v":2.75},{"m":"JMA","d":"2022-04-15","v":2.7},{"m":"JMA","d":"2022-05-15","v":2.5},{"m":"JMA","d":"2022-06-15","v":2.35},{"m":"JMA","d":"2022-07-15","v":2.28},{"m":"JMA","d":"2022-09-15","v":2.6},{"m":"JMA","d":"2022-11-15","v":3.3},{"m":"JMA","d":"2022-12-15","v":3.55},{"m":"JMA","d":"2023-01-15","v":3.35},{"m":"JMA","d":"2023-02-15","v":3.38},{"m":"JMA","d":"2023-03-15","v":3.2},{"m":"JMA","d":"2023-04-15","v":3.1},{"m":"JMA","d":"2023-05-15","v":2.5},{"m":"JMA","d":"2023-06-15","v":2.3},{"m":"JMA","d":"2023-07-15","v":2.3},{"m":"JMA","d":"2023-08-15","v":2.6},{"m":"JMA","d":"2023-09-15","v":2.88},
{"m":"KMA","d":"2019-08-15","v":2.47},{"m":"KMA","d":"2019-09-15","v":2.7},{"m":"KMA","d":"2019-10-15","v":2.95},{"m":"KMA","d":"2019-11-15","v":3.12},{"m":"KMA","d":"2019-12-15","v":3.02},{"m":"KMA","d":"2020-01-15","v":3.15},{"m":"KMA","d":"2020-02-15","v":3.1},{"m":"KMA","d":"2020-03-15","v":3.15},{"m":"KMA","d":"2020-04-15","v":2.8},{"m":"KMA","d":"2020-05-15","v":2.6},{"m":"KMA","d":"2020-06-15","v":2.4},{"m":"KMA","d":"2020-07-15","v":2.38},{"m":"KMA","d":"2020-08-15","v":2.48},{"m":"KMA","d":"2020-09-15","v":2.75},{"m":"KMA","d":"2020-10-15","v":2.84},{"m":"KMA","d":"2020-11-15","v":2.8},{"m":"KMA","d":"2020-12-15","v":2.95},{"m":"KMA","d":"2021-01-15","v":2.9},{"m":"KMA","d":"2021-02-15","v":2.8},{"m":"KMA","d":"2021-03-15","v":2.65},{"m":"KMA","d":"2021-04-15","v":2.78},{"m":"KMA","d":"2021-05-15","v":2.65},{"m":"KMA","d":"2021-06-15","v":2.5},{"m":"KMA","d":"2021-07-15","v":2.25},{"m":"KMA","d":"2021-08-15","v":2.35},{"m":"KMA","d":"2021-09-15","v":2.6},{"m":"KMA","d":"2021-10-15","v":2.95},{"m":"KMA","d":"2021-11-15","v":3.18},{"m":"KMA","d":"2021-12-15","v":3.05},{"m":"KMA","d":"2022-01-15","v":3.25},{"m":"KMA","d":"2022-02-15","v":3.18},{"m":"KMA","d":"2022-03-15","v":3.07},{"m":"KMA","d":"2022-04-15","v":2.75},{"m":"KMA","d":"2022-05-15","v":2.5},{"m":"KMA","d":"2022-06-15","v":2.35},{"m":"KMA","d":"2022-07-15","v":2.25},{"m":"KMA","d":"2022-08-15","v":2.48},{"m":"KMA","d":"2022-09-15","v":2.78},{"m":"KMA","d":"2022-10-15","v":3},{"m":"KMA","d":"2022-11-15","v":3.52},{"m":"KMA","d":"2022-12-15","v":3.6},{"m":"KMA","d":"2023-01-15","v":3.65},{"m":"KMA","d":"2023-02-15","v":3.55},{"m":"KMA","d":"2023-03-15","v":3.43},{"m":"KMA","d":"2023-04-15","v":3.15},{"m":"KMA","d":"2023-05-15","v":2.6},{"m":"KMA","d":"2023-06-15","v":2.35},{"m":"KMA","d":"2023-07-15","v":2.42},{"m":"KMA","d":"2023-08-15","v":2.7},{"m":"KMA","d":"2023-09-15","v":2.95},
{"m":"LOPS","d":"2020-05-15","v":2.07},{"m":"LOPS","d":"2020-06-15","v":2.25},{"m":"LOPS","d":"2020-07-15","v":2.15},{"m":"LOPS","d":"2020-08-15","v":2.28},{"m":"LOPS","d":"2020-09-15","v":2.2},{"m":"LOPS","d":"2020-10-15","v":2.32},{"m":"LOPS","d":"2020-11-15","v":2.42},{"m":"LOPS","d":"2020-12-15","v":2.76},{"m":"LOPS","d":"2021-01-15","v":2.76},{"m":"LOPS","d":"2021-02-15","v":2.55},{"m":"LOPS","d":"2021-03-15","v":2.22},{"m":"LOPS","d":"2021-04-15","v":2.2},{"m":"LOPS","d":"2021-05-15","v":2.13},{"m":"LOPS","d":"2021-06-15","v":2.12},{"m":"LOPS","d":"2021-07-15","v":2},{"m":"LOPS","d":"2021-08-15","v":2.05},{"m":"LOPS","d":"2021-09-15","v":2.3},{"m":"LOPS","d":"2021-10-15","v":2.55},{"m":"LOPS","d":"2021-11-15","v":3},{"m":"LOPS","d":"2021-12-15","v":2.9},{"m":"LOPS","d":"2022-01-15","v":2.7},{"m":"LOPS","d":"2022-02-15","v":2.6},{"m":"LOPS","d":"2022-03-15","v":2.5},{"m":"LOPS","d":"2022-04-15","v":2.3},{"m":"LOPS","d":"2022-05-15","v":2.3},{"m":"LOPS","d":"2022-06-15","v":2.2},{"m":"LOPS","d":"2022-07-15","v":2.21},{"m":"LOPS","d":"2022-08-15","v":2.21},{"m":"LOPS","d":"2022-09-15","v":2.4},{"m":"LOPS","d":"2022-10-15","v":2.7},{"m":"LOPS","d":"2022-11-15","v":3},{"m":"LOPS","d":"2022-12-15","v":3.28},{"m":"LOPS","d":"2023-01-15","v":3.15},{"m":"LOPS","d":"2023-02-15","v":2.88},{"m":"LOPS","d":"2023-03-15","v":2.92},{"m":"LOPS","d":"2023-04-15","v":2.75},{"m":"LOPS","d":"2023-05-15","v":2.25},{"m":"LOPS","d":"2023-06-15","v":2.07},{"m":"LOPS","d":"2023-07-15","v":2.18},{"m":"LOPS","d":"2023-08-15","v":2.4},{"m":"LOPS","d":"2023-09-15","v":2.6},
{"m":"METFR","d":"2019-04-15","v":2.4},{"m":"METFR","d":"2019-05-15","v":2.22},{"m":"METFR","d":"2019-06-15","v":2.13},{"m":"METFR","d":"2019-07-15","v":2.14},{"m":"METFR","d":"2019-08-15","v":2.14},{"m":"METFR","d":"2019-09-15","v":2.38},{"m":"METFR","d":"2019-10-15","v":2.52},{"m":"METFR","d":"2019-11-15","v":2.73},{"m":"METFR","d":"2019-12-15","v":2.65},{"m":"METFR","d":"2020-01-15","v":2.85},{"m":"METFR","d":"2020-02-15","v":2.83},{"m":"METFR","d":"2020-03-15","v":2.64},{"m":"METFR","d":"2020-04-15","v":2.3},{"m":"METFR","d":"2020-05-15","v":2.15},{"m":"METFR","d":"2020-06-15","v":2.36},{"m":"METFR","d":"2020-07-15","v":2.31},{"m":"METFR","d":"2020-08-15","v":2.34},{"m":"METFR","d":"2020-09-15","v":2.27},{"m":"METFR","d":"2020-10-15","v":2.33},{"m":"METFR","d":"2020-11-15","v":2.46},{"m":"METFR","d":"2020-12-15","v":2.78},{"m":"METFR","d":"2021-01-15","v":2.78},{"m":"METFR","d":"2021-02-15","v":2.6},{"m":"METFR","d":"2021-03-15","v":2.26},{"m":"METFR","d":"2021-04-15","v":2.22},{"m":"METFR","d":"2021-05-15","v":2.14},{"m":"METFR","d":"2021-06-15","v":2.12},{"m":"METFR","d":"2021-07-15","v":2.01},{"m":"METFR","d":"2021-08-15","v":2.09},{"m":"METFR","d":"2021-09-15","v":2.3},{"m":"METFR","d":"2021-10-15","v":2.55},{"m":"METFR","d":"2021-11-15","v":2.87},{"m":"METFR","d":"2021-12-15","v":2.89},{"m":"METFR","d":"2022-01-15","v":3},{"m":"METFR","d":"2022-02-15","v":2.62},{"m":"METFR","d":"2022-03-15","v":2.5},{"m":"METFR","d":"2022-04-15","v":2.29},{"m":"METFR","d":"2022-05-15","v":2.32},{"m":"METFR","d":"2022-06-15","v":2.29},{"m":"METFR","d":"2022-07-15","v":2.24},{"m":"METFR","d":"2022-08-15","v":2.28},{"m":"METFR","d":"2022-09-15","v":2.45},{"m":"METFR","d":"2022-10-15","v":2.7},{"m":"METFR","d":"2022-11-15","v":3.2},{"m":"METFR","d":"2022-12-15","v":3.3},{"m":"METFR","d":"2023-01-15","v":3.1},{"m":"METFR","d":"2023-02-15","v":2.84},{"m":"METFR","d":"2023-03-15","v":2.8},{"m":"METFR","d":"2023-04-15","v":2.63},{"m":"METFR","d":"2023-05-15","v":2.32},{"m":"METFR","d":"2023-06-15","v":2.15},{"m":"METFR","d":"2023-07-15","v":2.2},{"m":"METFR","d":"2023-08-15","v":2.4},{"m":"METFR","d":"2023-09-15","v":2.62},
{"m":"NCEP","d":"2019-08-15","v":2.53},{"m":"NCEP","d":"2019-09-15","v":2.68},{"m":"NCEP","d":"2019-10-15","v":3},{"m":"NCEP","d":"2019-11-15","v":3.26},{"m":"NCEP","d":"2019-12-15","v":3.3},{"m":"NCEP","d":"2020-01-15","v":3.35},{"m":"NCEP","d":"2020-02-15","v":3.15},{"m":"NCEP","d":"2020-03-15","v":2.9},{"m":"NCEP","d":"2020-04-15","v":2.6},{"m":"NCEP","d":"2020-05-15","v":2.39},{"m":"NCEP","d":"2020-06-15","v":2.38},{"m":"NCEP","d":"2020-07-15","v":2.45},{"m":"NCEP","d":"2020-08-15","v":2.65},{"m":"NCEP","d":"2020-09-15","v":2.84},{"m":"NCEP","d":"2020-10-15","v":2.78},{"m":"NCEP","d":"2020-11-15","v":2.82},{"m":"NCEP","d":"2020-12-15","v":3.07},{"m":"NCEP","d":"2021-01-15","v":3.08},{"m":"NCEP","d":"2021-02-15","v":3.02},{"m":"NCEP","d":"2021-03-15","v":2.64},{"m":"NCEP","d":"2021-04-15","v":2.6},{"m":"NCEP","d":"2021-05-15","v":2.42},{"m":"NCEP","d":"2021-06-15","v":2.45},{"m":"NCEP","d":"2021-07-15","v":2.33},{"m":"NCEP","d":"2021-08-15","v":2.4},{"m":"NCEP","d":"2021-09-15","v":2.7},{"m":"NCEP","d":"2021-10-15","v":3.15},{"m":"NCEP","d":"2021-11-15","v":3.4},{"m":"NCEP","d":"2021-12-15","v":3.35},{"m":"NCEP","d":"2022-01-15","v":3.55},{"m":"NCEP","d":"2022-02-15","v":3.25},{"m":"NCEP","d":"2022-03-15","v":3.24},{"m":"NCEP","d":"2022-04-15","v":2.75},{"m":"NCEP","d":"2022-05-15","v":2.68},{"m":"NCEP","d":"2022-06-15","v":2.45},{"m":"NCEP","d":"2022-07-15","v":2.3},{"m":"NCEP","d":"2022-08-15","v":2.4},{"m":"NCEP","d":"2022-09-15","v":2.6},{"m":"NCEP","d":"2022-10-15","v":2.9},{"m":"NCEP","d":"2022-11-15","v":3.58},{"m":"NCEP","d":"2022-12-15","v":3.8},{"m":"NCEP","d":"2023-01-15","v":3.51},{"m":"NCEP","d":"2023-02-15","v":3.47},{"m":"NCEP","d":"2023-03-15","v":3.38},{"m":"NCEP","d":"2023-04-15","v":3.3},{"m":"NCEP","d":"2023-05-15","v":2.6},{"m":"NCEP","d":"2023-06-15","v":2.43},{"m":"NCEP","d":"2023-07-15","v":2.43},{"m":"NCEP","d":"2023-08-15","v":2.7},{"m":"NCEP","d":"2023-09-15","v":3},
{"m":"NIWA","d":"2019-08-15","v":2.58},{"m":"NIWA","d":"2019-09-15","v":2.65},
{"m":"UKMO","d":"2019-10-15","v":2.85},{"m":"UKMO","d":"2019-11-15","v":3},{"m":"UKMO","d":"2019-12-15","v":3.12},{"m":"UKMO","d":"2020-01-15","v":3.19},{"m":"UKMO","d":"2020-02-15","v":3.1},{"m":"UKMO","d":"2020-03-15","v":2.85},{"m":"UKMO","d":"2020-04-15","v":2.56},{"m":"UKMO","d":"2020-05-15","v":2.56},{"m":"UKMO","d":"2020-06-15","v":2.45},{"m":"UKMO","d":"2020-07-15","v":2.49},{"m":"UKMO","d":"2020-08-15","v":2.5},{"m":"UKMO","d":"2020-09-15","v":2.76},{"m":"UKMO","d":"2020-10-15","v":2.69},{"m":"UKMO","d":"2020-11-15","v":2.74},{"m":"UKMO","d":"2020-12-15","v":2.93},{"m":"UKMO","d":"2021-01-15","v":2.94},{"m":"UKMO","d":"2021-02-15","v":2.82},{"m":"UKMO","d":"2021-03-15","v":2.48},{"m":"UKMO","d":"2021-04-15","v":2.54},{"m":"UKMO","d":"2021-05-15","v":2.43},{"m":"UKMO","d":"2021-06-15","v":2.43},{"m":"UKMO","d":"2021-07-15","v":2.31},{"m":"UKMO","d":"2021-08-15","v":2.35},{"m":"UKMO","d":"2021-09-15","v":2.62},{"m":"UKMO","d":"2021-10-15","v":2.85},{"m":"UKMO","d":"2021-11-15","v":3.17},{"m":"UKMO","d":"2021-12-15","v":3.18},{"m":"UKMO","d":"2022-01-15","v":3.05},{"m":"UKMO","d":"2022-02-15","v":2.81},{"m":"UKMO","d":"2022-03-15","v":2.78},{"m":"UKMO","d":"2022-04-15","v":2.53},{"m":"UKMO","d":"2022-05-15","v":2.43},{"m":"UKMO","d":"2022-06-15","v":2.3},{"m":"UKMO","d":"2022-07-15","v":2.23},{"m":"UKMO","d":"2022-08-15","v":2.27},{"m":"UKMO","d":"2022-09-15","v":2.45},{"m":"UKMO","d":"2022-10-15","v":2.72},{"m":"UKMO","d":"2022-11-15","v":3.3},{"m":"UKMO","d":"2022-12-15","v":3.41},{"m":"UKMO","d":"2023-01-15","v":3.38},{"m":"UKMO","d":"2023-02-15","v":3.1},{"m":"UKMO","d":"2023-03-15","v":2.95},{"m":"UKMO","d":"2023-04-15","v":2.83},{"m":"UKMO","d":"2023-05-15","v":2.4},{"m":"UKMO","d":"2023-06-15","v":2.2},{"m":"UKMO","d":"2023-07-15","v":2.19},{"m":"UKMO","d":"2023-08-15","v":2.5},{"m":"UKMO","d":"2023-09-15","v":2.82},
{"m":"DMI","d":"2019-10-15","v":2.62},{"m":"DMI","d":"2019-11-15","v":2.8},{"m":"DMI","d":"2019-12-15","v":3},{"m":"DMI","d":"2020-01-15","v":3.12},{"m":"DMI","d":"2020-02-15","v":3.1},{"m":"DMI","d":"2020-03-15","v":2.8},{"m":"DMI","d":"2020-04-15","v":2.5},{"m":"DMI","d":"2020-05-15","v":2.33},{"m":"DMI","d":"2020-06-15","v":2.35},{"m":"DMI","d":"2020-07-15","v":2.36},{"m":"DMI","d":"2020-08-15","v":2.5},{"m":"DMI","d":"2020-09-15","v":2.5},{"m":"DMI","d":"2020-10-15","v":2.62},{"m":"DMI","d":"2020-11-15","v":2.66},{"m":"DMI","d":"2020-12-15","v":2.95},{"m":"DMI","d":"2021-01-15","v":3.07},{"m":"DMI","d":"2021-02-15","v":2.95},{"m":"DMI","d":"2021-03-15","v":2.6},{"m":"DMI","d":"2021-04-15","v":2.55},{"m":"DMI","d":"2021-05-15","v":2.3},{"m":"DMI","d":"2021-06-15","v":2.42},{"m":"DMI","d":"2021-07-15","v":2.28},{"m":"DMI","d":"2021-08-15","v":2.27},{"m":"DMI","d":"2021-09-15","v":2.65},{"m":"DMI","d":"2021-10-15","v":3.05},{"m":"DMI","d":"2021-11-15","v":3.28},{"m":"DMI","d":"2021-12-15","v":3.22},{"m":"DMI","d":"2022-01-15","v":3.15},{"m":"DMI","d":"2022-02-15","v":3.03},{"m":"DMI","d":"2022-03-15","v":3.05},{"m":"DMI","d":"2022-04-15","v":2.8},{"m":"DMI","d":"2022-05-15","v":2.6},{"m":"DMI","d":"2022-06-15","v":2.45},{"m":"DMI","d":"2022-07-15","v":2.4},{"m":"DMI","d":"2022-08-15","v":2.43},{"m":"DMI","d":"2022-09-15","v":2.6},{"m":"DMI","d":"2022-10-15","v":2.9},{"m":"DMI","d":"2022-11-15","v":3.25},{"m":"DMI","d":"2022-12-15","v":3.31},{"m":"DMI","d":"2023-01-15","v":3.12},{"m":"DMI","d":"2023-02-15","v":3.1},{"m":"DMI","d":"2023-03-15","v":3},{"m":"DMI","d":"2023-04-15","v":2.9},{"m":"DMI","d":"2023-05-15","v":2.45},{"m":"DMI","d":"2023-06-15","v":2.22},{"m":"DMI","d":"2023-07-15","v":2.25},{"m":"DMI","d":"2023-08-15","v":2.5},{"m":"DMI","d":"2023-09-15","v":2.72},
{"m":"METNO","d":"2023-07-15","v":2.22},{"m":"METNO","d":"2023-08-15","v":2.3}
],"me":[
{"m":"BoM","d":"2019-08-15","v":0.39},{"m":"BoM","d":"2019-09-15","v":0.65},{"m":"BoM","d":"2019-10-15","v":0.83},{"m":"BoM","d":"2019-11-15","v":0.72},{"m":"BoM","d":"2019-12-15","v":0.78},{"m":"BoM","d":"2020-01-15","v":0.8},{"m":"BoM","d":"2020-02-15","v":0.75},{"m":"BoM","d":"2020-03-15","v":0.6},{"m":"BoM","d":"2020-04-15","v":0.4},{"m":"BoM","d":"2020-05-15","v":0.38},{"m":"BoM","d":"2020-06-15","v":0.2},{"m":"BoM","d":"2020-07-15","v":0.35},{"m":"BoM","d":"2020-08-15","v":0.48},{"m":"BoM","d":"2020-09-15","v":0.53},{"m":"BoM","d":"2020-10-15","v":0.5},{"m":"BoM","d":"2020-11-15","v":0.62},{"m":"BoM","d":"2020-12-15","v":0.7},{"m":"BoM","d":"2021-01-15","v":0.6},{"m":"BoM","d":"2021-02-15","v":0.6},{"m":"BoM","d":"2021-03-15","v":0.65},{"m":"BoM","d":"2021-04-15","v":0.75},{"m":"BoM","d":"2021-05-15","v":0.78},{"m":"BoM","d":"2021-06-15","v":0.68},{"m":"BoM","d":"2021-07-15","v":0.72},{"m":"BoM","d":"2021-08-15","v":0.4},{"m":"BoM","d":"2021-09-15","v":0.35},{"m":"BoM","d":"2021-10-15","v":0.5},{"m":"BoM","d":"2021-11-15","v":0.45},{"m":"BoM","d":"2021-12-15","v":0.57},{"m":"BoM","d":"2022-01-15","v":0.63},{"m":"BoM","d":"2022-02-15","v":0.75},{"m":"BoM","d":"2022-03-15","v":0.65},{"m":"BoM","d":"2022-04-15","v":0.3},{"m":"BoM","d":"2022-05-15","v":0.1},{"m":"BoM","d":"2022-06-15","v":0.02},{"m":"BoM","d":"2022-07-15","v":0.05},{"m":"BoM","d":"2022-08-15","v":0.28},{"m":"BoM","d":"2022-09-15","v":0.48},{"m":"BoM","d":"2022-10-15","v":0.67},{"m":"BoM","d":"2022-11-15","v":0.58},{"m":"BoM","d":"2022-12-15","v":0.5},{"m":"BoM","d":"2023-01-15","v":0.55},{"m":"BoM","d":"2023-02-15","v":0.75},{"m":"BoM","d":"2023-03-15","v":0.88},{"m":"BoM","d":"2023-04-15","v":0.7},{"m":"BoM","d":"2023-05-15","v":0.25},{"m":"BoM","d":"2023-06-15","v":0.13},{"m":"BoM","d":"2023-07-15","v":0.15},{"m":"BoM","d":"2023-08-15","v":0.7},{"m":"BoM","d":"2023-09-15","v":0.78},
{"m":"ECCC","d":"2019-08-15","v":0.45},{"m":"ECCC","d":"2019-10-15","v":0.75},{"m":"ECCC","d":"2019-11-15","v":0.88},{"m":"ECCC","d":"2019-12-15","v":1.13},{"m":"ECCC","d":"2020-01-15","v":1.2},{"m":"ECCC","d":"2020-02-15","v":1.13},{"m":"ECCC","d":"2020-03-15","v":0.92},{"m":"ECCC","d":"2020-04-15","v":0.72},{"m":"ECCC","d":"2020-05-15","v":0.5},{"m":"ECCC","d":"2020-06-15","v":0.3},{"m":"ECCC","d":"2020-07-15","v":0.4},{"m":"ECCC","d":"2020-08-15","v":0.5},{"m":"ECCC","d":"2020-09-15","v":0.5},{"m":"ECCC","d":"2020-10-15","v":0.45},{"m":"ECCC","d":"2020-11-15","v":0.72},{"m":"ECCC","d":"2020-12-15","v":0.7},{"m":"ECCC","d":"2021-01-15","v":0.58},{"m":"ECCC","d":"2021-02-15","v":0.6},{"m":"ECCC","d":"2021-03-15","v":0.78},{"m":"ECCC","d":"2021-04-15","v":0.85},{"m":"ECCC","d":"2021-05-15","v":0.75},{"m":"ECCC","d":"2021-06-15","v":0.5},{"m":"ECCC","d":"2021-07-15","v":0.6},{"m":"ECCC","d":"2021-08-15","v":0.35},{"m":"ECCC","d":"2021-09-15","v":0.24},{"m":"ECCC","d":"2021-10-15","v":0.2},{"m":"ECCC","d":"2021-11-15","v":0.45},{"m":"ECCC","d":"2021-12-15","v":0.38},{"m":"ECCC","d":"2022-01-15","v":0.43},{"m":"ECCC","d":"2022-02-15","v":0.45},{"m":"ECCC","d":"2022-03-15","v":0.55},{"m":"ECCC","d":"2022-04-15","v":0.1},{"m":"ECCC","d":"2022-05-15","v":-0.05},{"m":"ECCC","d":"2022-06-15","v":-0.22},{"m":"ECCC","d":"2022-07-15","v":-0.15},{"m":"ECCC","d":"2022-08-15","v":0},{"m":"ECCC","d":"2022-09-15","v":0.25},{"m":"ECCC","d":"2022-10-15","v":0.4},{"m":"ECCC","d":"2022-11-15","v":0.44},{"m":"ECCC","d":"2022-12-15","v":0.45},{"m":"ECCC","d":"2023-01-15","v":0.52},{"m":"ECCC","d":"2023-02-15","v":0.88},{"m":"ECCC","d":"2023-03-15","v":1},{"m":"ECCC","d":"2023-04-15","v":0.7},{"m":"ECCC","d":"2023-05-15","v":0.3},{"m":"ECCC","d":"2023-06-15","v":0.1},{"m":"ECCC","d":"2023-07-15","v":-0.05},{"m":"ECCC","d":"2023-08-15","v":0.65},{"m":"ECCC","d":"2023-09-15","v":0.72},
{"m":"DWD","d":"2019-08-15","v":0.35},{"m":"DWD","d":"2019-10-15","v":0.66},{"m":"DWD","d":"2019-11-15","v":0.68},{"m":"DWD","d":"2019-12-15","v":0.8},{"m":"DWD","d":"2020-01-15","v":0.8},{"m":"DWD","d":"2020-02-15","v":0.78},{"m":"DWD","d":"2020-03-15","v":0.5},{"m":"DWD","d":"2020-04-15","v":0.1},{"m":"DWD","d":"2020-05-15","v":-0.16},{"m":"DWD","d":"2020-06-15","v":-0.16},{"m":"DWD","d":"2020-07-15","v":-0.05},{"m":"DWD","d":"2020-08-15","v":0.06},{"m":"DWD","d":"2020-09-15","v":0.13},{"m":"DWD","d":"2020-10-15","v":0.11},{"m":"DWD","d":"2020-11-15","v":0.22},{"m":"DWD","d":"2020-12-15","v":0.3},{"m":"DWD","d":"2021-01-15","v":0.42},{"m":"DWD","d":"2021-02-15","v":0.62},{"m":"DWD","d":"2021-03-15","v":0.35},{"m":"DWD","d":"2021-04-15","v":0.28},{"m":"DWD","d":"2021-05-15","v":0.04},{"m":"DWD","d":"2021-06-15","v":-0.02},{"m":"DWD","d":"2021-07-15","v":0.25},{"m":"DWD","d":"2021-08-15","v":0.18},{"m":"DWD","d":"2021-09-15","v":0.05},{"m":"DWD","d":"2021-10-15","v":0.05},{"m":"DWD","d":"2021-11-15","v":0.16},{"m":"DWD","d":"2021-12-15","v":0.15},{"m":"DWD","d":"2022-01-15","v":-0.06},{"m":"DWD","d":"2022-02-15","v":-0.06},{"m":"DWD","d":"2022-03-15","v":-0.05},{"m":"DWD","d":"2022-04-15","v":-0.39},{"m":"DWD","d":"2022-05-15","v":-0.62},{"m":"DWD","d":"2022-06-15","v":-0.64},{"m":"DWD","d":"2022-07-15","v":-0.54},{"m":"DWD","d":"2022-08-15","v":-0.17},{"m":"DWD","d":"2022-09-15","v":-0.1},{"m":"DWD","d":"2022-10-15","v":0.12},{"m":"DWD","d":"2022-11-15","v":0.38},{"m":"DWD","d":"2022-12-15","v":0.3},{"m":"DWD","d":"2023-01-15","v":0.45},{"m":"DWD","d":"2023-02-15","v":0.58},{"m":"DWD","d":"2023-03-15","v":0.45},{"m":"DWD","d":"2023-04-15","v":0.2},{"m":"DWD","d":"2023-05-15","v":-0.4},{"m":"DWD","d":"2023-06-15","v":-0.55},{"m":"DWD","d":"2023-07-15","v":-0.5},{"m":"DWD","d":"2023-08-15","v":-0.11},{"m":"DWD","d":"2023-09-15","v":0.1},
{"m":"ECMWF","d":"2019-08-15","v":0.25},{"m":"ECMWF","d":"2019-09-15","v":0.33},{"m":"ECMWF","d":"2019-10-15","v":0.5},{"m":"ECMWF","d":"2019-11-15","v":0.24},{"m":"ECMWF","d":"2019-12-15","v":0.4},{"m":"ECMWF","d":"2020-01-15","v":0.31},{"m":"ECMWF","d":"2020-03-15","v":0.3},{"m":"ECMWF","d":"2020-05-15","v":0.13},{"m":"ECMWF","d":"2020-07-15","v":0.2},{"m":"ECMWF","d":"2020-09-15","v":0.3},{"m":"ECMWF","d":"2020-11-15","v":0.38},{"m":"ECMWF","d":"2020-12-15","v":0.42},{"m":"ECMWF","d":"2021-01-15","v":0.3},{"m":"ECMWF","d":"2021-02-15","v":0.15},{"m":"ECMWF","d":"2021-03-15","v":0.28},{"m":"ECMWF","d":"2021-05-15","v":0.4},{"m":"ECMWF","d":"2021-07-15","v":0.48},{"m":"ECMWF","d":"2021-08-15","v":0.25},{"m":"ECMWF","d":"2021-09-15","v":0.1},{"m":"ECMWF","d":"2021-10-15","v":0.11},{"m":"ECMWF","d":"2021-11-15","v":0.28},{"m":"ECMWF","d":"2021-12-15","v":0.38},{"m":"ECMWF","d":"2022-01-15","v":0.18},{"m":"ECMWF","d":"2022-02-15","v":0.11},{"m":"ECMWF","d":"2022-03-15","v":0.14},{"m":"ECMWF","d":"2022-05-15","v":-0.12},{"m":"ECMWF","d":"2022-06-15","v":-0.27},{"m":"ECMWF","d":"2022-07-15","v":-0.25},{"m":"ECMWF","d":"2022-08-15","v":-0.12},{"m":"ECMWF","d":"2022-09-15","v":-0.02},{"m":"ECMWF","d":"2022-10-15","v":0.16},{"m":"ECMWF","d":"2022-12-15","v":0.12},{"m":"ECMWF","d":"2023-01-15","v":0.12},{"m":"ECMWF","d":"2023-03-15","v":0.47},{"m":"ECMWF","d":"2023-05-15","v":0.18},{"m":"ECMWF","d":"2023-06-15","v":-0.08},{"m":"ECMWF","d":"2023-07-15","v":-0.12},{"m":"ECMWF","d":"2023-08-15","v":0.24},{"m":"ECMWF","d":"2023-09-15","v":0.17},
{"m":"JMA","d":"2019-08-15","v":0.35},{"m":"JMA","d":"2019-09-15","v":0.5},{"m":"JMA","d":"2019-10-15","v":0.65},{"m":"JMA","d":"2019-11-15","v":0.55},{"m":"JMA","d":"2019-12-15","v":0.67},{"m":"JMA","d":"2020-01-15","v":0.68},{"m":"JMA","d":"2020-02-15","v":0.68},{"m":"JMA","d":"2020-03-15","v":0.55},{"m":"JMA","d":"2020-04-15","v":0.3},{"m":"JMA","d":"2020-05-15","v":0.18},{"m":"JMA","d":"2020-06-15","v":0.25},{"m":"JMA","d":"2020-07-15","v":0.45},{"m":"JMA","d":"2020-08-15","v":0.73},{"m":"JMA","d":"2020-09-15","v":0.7},{"m":"JMA","d":"2020-10-15","v":0.55},{"m":"JMA","d":"2020-11-15","v":0.6},{"m":"JMA","d":"2020-12-15","v":0.62},{"m":"JMA","d":"2021-01-15","v":0.58},{"m":"JMA","d":"2021-02-15","v":0.6},{"m":"JMA","d":"2021-03-15","v":0.52},{"m":"JMA","d":"2021-04-15","v":0.58},{"m":"JMA","d":"2021-05-15","v":0.68},{"m":"JMA","d":"2021-06-15","v":0.85},{"m":"JMA","d":"2021-07-15","v":0.62},{"m":"JMA","d":"2021-08-15","v":0.4},{"m":"JMA","d":"2021-09-15","v":0.4},{"m":"JMA","d":"2021-10-15","v":0.45},{"m":"JMA","d":"2021-11-15","v":0.45},{"m":"JMA","d":"2021-12-15","v":0.42},{"m":"JMA","d":"2022-01-15","v":0.33},{"m":"JMA","d":"2022-02-15","v":0.5},{"m":"JMA","d":"2022-03-15","v":0.42},{"m":"JMA","d":"2022-04-15","v":0.15},{"m":"JMA","d":"2022-05-15","v":0.03},{"m":"JMA","d":"2022-06-15","v":-0.03},{"m":"JMA","d":"2022-07-15","v":-0.05},{"m":"JMA","d":"2022-08-15","v":0.05},{"m":"JMA","d":"2022-09-15","v":0.28},{"m":"JMA","d":"2022-10-15","v":0.55},{"m":"JMA","d":"2022-11-15","v":0.71},{"m":"JMA","d":"2022-12-15","v":0.73},{"m":"JMA","d":"2023-01-15","v":0.58},{"m":"JMA","d":"2023-02-15","v":0.6},{"m":"JMA","d":"2023-03-15","v":0.72},{"m":"JMA","d":"2023-04-15","v":0.55},{"m":"JMA","d":"2023-05-15","v":0.2},{"m":"JMA","d":"2023-06-15","v":-0.02},{"m":"JMA","d":"2023-07-15","v":0.03},{"m":"JMA","d":"2023-08-15","v":0.45},{"m":"JMA","d":"2023-09-15","v":0.38},
{"m":"KMA","d":"2019-08-15","v":0.34},{"m":"KMA","d":"2019-09-15","v":0.66},{"m":"KMA","d":"2019-10-15","v":0.84},{"m":"KMA","d":"2019-11-15","v":0.78},{"m":"KMA","d":"2019-12-15","v":0.76},{"m":"KMA","d":"2020-01-15","v":0.8},{"m":"KMA","d":"2020-02-15","v":0.76},{"m":"KMA","d":"2020-03-15","v":0.55},{"m":"KMA","d":"2020-04-15","v":0.33},{"m":"KMA","d":"2020-05-15","v":0.25},{"m":"KMA","d":"2020-06-15","v":0.2},{"m":"KMA","d":"2020-07-15","v":0.3},{"m":"KMA","d":"2020-08-15","v":0.48},{"m":"KMA","d":"2020-09-15","v":0.52},{"m":"KMA","d":"2020-10-15","v":0.45},{"m":"KMA","d":"2020-11-15","v":0.55},{"m":"KMA","d":"2020-12-15","v":0.7},{"m":"KMA","d":"2021-01-15","v":0.63},{"m":"KMA","d":"2021-02-15","v":0.52},{"m":"KMA","d":"2021-03-15","v":0.57},{"m":"KMA","d":"2021-04-15","v":0.75},{"m":"KMA","d":"2021-05-15","v":0.78},{"m":"KMA","d":"2021-06-15","v":0.58},{"m":"KMA","d":"2021-07-15","v":0.63},{"m":"KMA","d":"2021-08-15","v":0.37},{"m":"KMA","d":"2021-09-15","v":0.45},{"m":"KMA","d":"2021-10-15","v":0.62},{"m":"KMA","d":"2021-11-15","v":0.7},{"m":"KMA","d":"2021-12-15","v":0.87},{"m":"KMA","d":"2022-01-15","v":0.9},{"m":"KMA","d":"2022-02-15","v":0.72},{"m":"KMA","d":"2022-03-15","v":0.55},{"m":"KMA","d":"2022-04-15","v":0.15},{"m":"KMA","d":"2022-05-15","v":0.08},{"m":"KMA","d":"2022-06-15","v":0.02},{"m":"KMA","d":"2022-07-15","v":0.02},{"m":"KMA","d":"2022-08-15","v":0.25},{"m":"KMA","d":"2022-09-15","v":0.28},{"m":"KMA","d":"2022-10-15","v":0.42},{"m":"KMA","d":"2022-11-15","v":0.47},{"m":"KMA","d":"2022-12-15","v":0.5},{"m":"KMA","d":"2023-01-15","v":0.6},{"m":"KMA","d":"2023-02-15","v":0.75},{"m":"KMA","d":"2023-03-15","v":0.9},{"m":"KMA","d":"2023-04-15","v":0.65},{"m":"KMA","d":"2023-05-15","v":0.2},{"m":"KMA","d":"2023-06-15","v":0.12},{"m":"KMA","d":"2023-07-15","v":0.3},{"m":"KMA","d":"2023-08-15","v":0.62},{"m":"KMA","d":"2023-09-15","v":0.72},
{"m":"LOPS","d":"2020-05-15","v":0.03},{"m":"LOPS","d":"2020-06-15","v":0.08},{"m":"LOPS","d":"2020-07-15","v":0.12},{"m":"LOPS","d":"2020-08-15","v":0.27},{"m":"LOPS","d":"2020-09-15","v":0.2},{"m":"LOPS","d":"2020-10-15","v":0.13},{"m":"LOPS","d":"2020-11-15","v":0.25},{"m":"LOPS","d":"2020-12-15","v":0.36},{"m":"LOPS","d":"2021-01-15","v":0.27},{"m":"LOPS","d":"2021-02-15","v":0.2},{"m":"LOPS","d":"2021-03-15","v":0.28},{"m":"LOPS","d":"2021-04-15","v":0.38},{"m":"LOPS","d":"2021-05-15","v":0.4},{"m":"LOPS","d":"2021-06-15","v":0.33},{"m":"LOPS","d":"2021-07-15","v":0.47},{"m":"LOPS","d":"2021-08-15","v":0.2},{"m":"LOPS","d":"2021-09-15","v":0.1},{"m":"LOPS","d":"2021-10-15","v":0.12},{"m":"LOPS","d":"2021-11-15","v":0.25},{"m":"LOPS","d":"2021-12-15","v":0.28},{"m":"LOPS","d":"2022-01-15","v":0.12},{"m":"LOPS","d":"2022-02-15","v":0.17},{"m":"LOPS","d":"2022-03-15","v":0.19},{"m":"LOPS","d":"2022-04-15","v":-0.02},{"m":"LOPS","d":"2022-05-15","v":-0.12},{"m":"LOPS","d":"2022-06-15","v":-0.25},{"m":"LOPS","d":"2022-07-15","v":-0.25},{"m":"LOPS","d":"2022-08-15","v":-0.1},{"m":"LOPS","d":"2022-09-15","v":0},{"m":"LOPS","d":"2022-10-15","v":0.24},{"m":"LOPS","d":"2022-11-15","v":0.18},{"m":"LOPS","d":"2022-12-15","v":0.11},{"m":"LOPS","d":"2023-01-15","v":0.11},{"m":"LOPS","d":"2023-02-15","v":0.3},{"m":"LOPS","d":"2023-03-15","v":0.53},{"m":"LOPS","d":"2023-04-15","v":0.4},{"m":"LOPS","d":"2023-05-15","v":0.17},{"m":"LOPS","d":"2023-06-15","v":-0.09},{"m":"LOPS","d":"2023-07-15","v":-0.05},{"m":"LOPS","d":"2023-08-15","v":0.22},{"m":"LOPS","d":"2023-09-15","v":0.1},
{"m":"METFR","d":"2019-04-15","v":0.1},{"m":"METFR","d":"2019-05-15","v":-0.04},{"m":"METFR","d":"2019-06-15","v":0},{"m":"METFR","d":"2019-07-15","v":-0.01},{"m":"METFR","d":"2019-08-15","v":0.25},{"m":"METFR","d":"2019-09-15","v":0.35},{"m":"METFR","d":"2019-10-15","v":0.5},{"m":"METFR","d":"2019-11-15","v":0.24},{"m":"METFR","d":"2019-12-15","v":0.4},{"m":"METFR","d":"2020-01-15","v":0.3},{"m":"METFR","d":"2020-02-15","v":0.39},{"m":"METFR","d":"2020-03-15","v":0.3},{"m":"METFR","d":"2020-04-15","v":0.22},{"m":"METFR","d":"2020-05-15","v":0.13},{"m":"METFR","d":"2020-06-15","v":0.12},{"m":"METFR","d":"2020-07-15","v":0.2},{"m":"METFR","d":"2020-08-15","v":0.28},{"m":"METFR","d":"2020-09-15","v":0.3},{"m":"METFR","d":"2020-10-15","v":0.25},{"m":"METFR","d":"2020-11-15","v":0.4},{"m":"METFR","d":"2020-12-15","v":0.45},{"m":"METFR","d":"2021-01-15","v":0.3},{"m":"METFR","d":"2021-02-15","v":0.15},{"m":"METFR","d":"2021-03-15","v":0.28},{"m":"METFR","d":"2021-04-15","v":0.35},{"m":"METFR","d":"2021-05-15","v":0.4},{"m":"METFR","d":"2021-06-15","v":0.33},{"m":"METFR","d":"2021-07-15","v":0.5},{"m":"METFR","d":"2021-08-15","v":0.25},{"m":"METFR","d":"2021-09-15","v":0.1},{"m":"METFR","d":"2021-10-15","v":0.13},{"m":"METFR","d":"2021-11-15","v":0.3},{"m":"METFR","d":"2021-12-15","v":0.38},{"m":"METFR","d":"2022-01-15","v":0.2},{"m":"METFR","d":"2022-02-15","v":0.09},{"m":"METFR","d":"2022-03-15","v":0.13},{"m":"METFR","d":"2022-04-15","v":0},{"m":"METFR","d":"2022-05-15","v":-0.12},{"m":"METFR","d":"2022-06-15","v":-0.27},{"m":"METFR","d":"2022-07-15","v":-0.26},{"m":"METFR","d":"2022-08-15","v":-0.15},{"m":"METFR","d":"2022-09-15","v":-0.03},{"m":"METFR","d":"2022-10-15","v":0.15},{"m":"METFR","d":"2022-11-15","v":0.2},{"m":"METFR","d":"2022-12-15","v":0.12},{"m":"METFR","d":"2023-01-15","v":0.11},{"m":"METFR","d":"2023-02-15","v":0.3},{"m":"METFR","d":"2023-03-15","v":0.48},{"m":"METFR","d":"2023-04-15","v":0.4},{"m":"METFR","d":"2023-05-15","v":0.2},{"m":"METFR","d":"2023-06-15","v":-0.08},{"m":"METFR","d":"2023-07-15","v":-0.12},{"m":"METFR","d":"2023-08-15","v":0.26},{"m":"METFR","d":"2023-09-15","v":0.17},
{"m":"NCEP","d":"2019-08-15","v":0.1},{"m":"NCEP","d":"2019-09-15","v":0.45},{"m":"NCEP","d":"2019-10-15","v":0.82},{"m":"NCEP","d":"2019-11-15","v":0.84},{"m":"NCEP","d":"2019-12-15","v":0.82},{"m":"NCEP","d":"2020-01-15","v":0.79},{"m":"NCEP","d":"2020-02-15","v":0.72},{"m":"NCEP","d":"2020-03-15","v":0.6},{"m":"NCEP","d":"2020-04-15","v":0.22},{"m":"NCEP","d":"2020-05-15","v":0.22},{"m":"NCEP","d":"2020-06-15","v":0.25},{"m":"NCEP","d":"2020-07-15","v":0.42},{"m":"NCEP","d":"2020-08-15","v":0.32},{"m":"NCEP","d":"2020-09-15","v":0.52},{"m":"NCEP","d":"2020-10-15","v":0.4},{"m":"NCEP","d":"2020-11-15","v":0.93},{"m":"NCEP","d":"2020-12-15","v":0.9},{"m":"NCEP","d":"2021-01-15","v":0.84},{"m":"NCEP","d":"2021-02-15","v":0.6},{"m":"NCEP","d":"2021-03-15","v":0.64},{"m":"NCEP","d":"2021-04-15","v":0.63},{"m":"NCEP","d":"2021-05-15","v":0.55},{"m":"NCEP","d":"2021-06-15","v":0.38},{"m":"NCEP","d":"2021-07-15","v":0.3},{"m":"NCEP","d":"2021-08-15","v":0.05},{"m":"NCEP","d":"2021-09-15","v":0.03},{"m":"NCEP","d":"2021-10-15","v":0.25},{"m":"NCEP","d":"2021-11-15","v":0.6},{"m":"NCEP","d":"2021-12-15","v":0.85},{"m":"NCEP","d":"2022-01-15","v":0.9},{"m":"NCEP","d":"2022-02-15","v":1.02},{"m":"NCEP","d":"2022-03-15","v":0.99},{"m":"NCEP","d":"2022-04-15","v":0.4},{"m":"NCEP","d":"2022-05-15","v":0.1},{"m":"NCEP","d":"2022-06-15","v":-0.07},{"m":"NCEP","d":"2022-07-15","v":-0.13},{"m":"NCEP","d":"2022-08-15","v":0},{"m":"NCEP","d":"2022-09-15","v":0.2},{"m":"NCEP","d":"2022-10-15","v":0.4},{"m":"NCEP","d":"2022-11-15","v":0.48},{"m":"NCEP","d":"2022-12-15","v":0.48},{"m":"NCEP","d":"2023-01-15","v":0.46},{"m":"NCEP","d":"2023-02-15","v":0.7},{"m":"NCEP","d":"2023-03-15","v":0.78},{"m":"NCEP","d":"2023-04-15","v":0.72},{"m":"NCEP","d":"2023-05-15","v":0.2},{"m":"NCEP","d":"2023-06-15","v":-0.12},{"m":"NCEP","d":"2023-07-15","v":-0.2},{"m":"NCEP","d":"2023-08-15","v":0.12},{"m":"NCEP","d":"2023-09-15","v":0.27},
{"m":"NIWA","d":"2019-08-15","v":0.85},{"m":"NIWA","d":"2019-09-15","v":0.96},
{"m":"UKMO","d":"2019-10-15","v":1.13},{"m":"UKMO","d":"2019-11-15","v":0.86},{"m":"UKMO","d":"2019-12-15","v":0.89},{"m":"UKMO","d":"2020-01-15","v":0.83},{"m":"UKMO","d":"2020-02-15","v":0.94},{"m":"UKMO","d":"2020-03-15","v":0.67},{"m":"UKMO","d":"2020-04-15","v":0.51},{"m":"UKMO","d":"2020-05-15","v":0.44},{"m":"UKMO","d":"2020-06-15","v":0.56},{"m":"UKMO","d":"2020-07-15","v":0.63},{"m":"UKMO","d":"2020-08-15","v":0.71},{"m":"UKMO","d":"2020-09-15","v":0.62},{"m":"UKMO","d":"2020-10-15","v":0.58},{"m":"UKMO","d":"2020-11-15","v":0.82},{"m":"UKMO","d":"2020-12-15","v":1.02},{"m":"UKMO","d":"2021-01-15","v":0.95},{"m":"UKMO","d":"2021-02-15","v":0.79},{"m":"UKMO","d":"2021-03-15","v":0.75},{"m":"UKMO","d":"2021-04-15","v":0.75},{"m":"UKMO","d":"2021-05-15","v":0.78},{"m":"UKMO","d":"2021-06-15","v":0.71},{"m":"UKMO","d":"2021-07-15","v":0.78},{"m":"UKMO","d":"2021-08-15","v":0.5},{"m":"UKMO","d":"2021-09-15","v":0.34},{"m":"UKMO","d":"2021-10-15","v":0.52},{"m":"UKMO","d":"2021-11-15","v":0.5},{"m":"UKMO","d":"2021-12-15","v":0.81},{"m":"UKMO","d":"2022-01-15","v":0.74},{"m":"UKMO","d":"2022-02-15","v":0.78},{"m":"UKMO","d":"2022-03-15","v":0.66},{"m":"UKMO","d":"2022-04-15","v":0.32},{"m":"UKMO","d":"2022-05-15","v":0.17},{"m":"UKMO","d":"2022-06-15","v":0.09},{"m":"UKMO","d":"2022-07-15","v":0.11},{"m":"UKMO","d":"2022-08-15","v":0.2},{"m":"UKMO","d":"2022-09-15","v":0.24},{"m":"UKMO","d":"2022-10-15","v":0.46},{"m":"UKMO","d":"2022-11-15","v":0.5},{"m":"UKMO","d":"2022-12-15","v":0.58},{"m":"UKMO","d":"2023-01-15","v":0.64},{"m":"UKMO","d":"2023-02-15","v":0.93},{"m":"UKMO","d":"2023-03-15","v":0.91},{"m":"UKMO","d":"2023-04-15","v":0.9},{"m":"UKMO","d":"2023-05-15","v":0.29},{"m":"UKMO","d":"2023-06-15","v":0.15},{"m":"UKMO","d":"2023-07-15","v":0.17},{"m":"UKMO","d":"2023-08-15","v":0.69},{"m":"UKMO","d":"2023-09-15","v":0.74},
{"m":"DMI","d":"2019-10-15","v":0.55},{"m":"DMI","d":"2019-11-15","v":0.4},{"m":"DMI","d":"2019-12-15","v":0.48},{"m":"DMI","d":"2020-01-15","v":0.4},{"m":"DMI","d":"2020-02-15","v":0.38},{"m":"DMI","d":"2020-03-15","v":0.4},{"m":"DMI","d":"2020-04-15","v":0.25},{"m":"DMI","d":"2020-05-15","v":0.1},{"m":"DMI","d":"2020-06-15","v":0.05},{"m":"DMI","d":"2020-07-15","v":0.2},{"m":"DMI","d":"2020-08-15","v":0.3},{"m":"DMI","d":"2020-09-15","v":0.3},{"m":"DMI","d":"2020-10-15","v":0.2},{"m":"DMI","d":"2020-11-15","v":0.3},{"m":"DMI","d":"2020-12-15","v":0.3},{"m":"DMI","d":"2021-01-15","v":0.28},{"m":"DMI","d":"2021-02-15","v":0.2},{"m":"DMI","d":"2021-03-15","v":0.28},{"m":"DMI","d":"2021-04-15","v":0.38},{"m":"DMI","d":"2021-05-15","v":0.4},{"m":"DMI","d":"2021-06-15","v":0.48},{"m":"DMI","d":"2021-07-15","v":0.55},{"m":"DMI","d":"2021-08-15","v":0.2},{"m":"DMI","d":"2021-09-15","v":0.18},{"m":"DMI","d":"2021-10-15","v":0.22},{"m":"DMI","d":"2021-11-15","v":0.38},{"m":"DMI","d":"2021-12-15","v":0.45},{"m":"DMI","d":"2022-01-15","v":0.35},{"m":"DMI","d":"2022-02-15","v":0.33},{"m":"DMI","d":"2022-03-15","v":0.28},{"m":"DMI","d":"2022-04-15","v":-0.03},{"m":"DMI","d":"2022-05-15","v":-0.18},{"m":"DMI","d":"2022-06-15","v":-0.3},{"m":"DMI","d":"2022-07-15","v":-0.2},{"m":"DMI","d":"2022-08-15","v":-0.05},{"m":"DMI","d":"2022-09-15","v":0.05},{"m":"DMI","d":"2022-10-15","v":0.17},{"m":"DMI","d":"2022-11-15","v":0.08},{"m":"DMI","d":"2022-12-15","v":0.2},{"m":"DMI","d":"2023-01-15","v":0.3},{"m":"DMI","d":"2023-02-15","v":0.48},{"m":"DMI","d":"2023-03-15","v":0.58},{"m":"DMI","d":"2023-04-15","v":0.4},{"m":"DMI","d":"2023-05-15","v":0.15},{"m":"DMI","d":"2023-06-15","v":-0.13},{"m":"DMI","d":"2023-07-15","v":-0.05},{"m":"DMI","d":"2023-08-15","v":0.28},{"m":"DMI","d":"2023-09-15","v":0.19},
{"m":"METNO","d":"2023-08-15","v":0.22},{"m":"METNO","d":"2023-09-15","v":0.16}
]},
"spacing":37,"resolve":{"scale":{"color":"independent"}},
"vconcat":[{"spacing":8,"resolve":{"scale":{"color":"independent"}},"hconcat":[
{"width":414,"height":240,"title":{"text":["Scatter index \u00a0|\u00a0 10m wind speed | North Sea","T+72 \u00a0|\u00a0 waveapi lw wave prod 00z"]},"data":{"name":"si"},
"mark":{"type":"line","strokeWidth":2.8,"point":{"shape":"cross","size":14,"filled":true}},
"encoding":{"x":{"field":"d","type":"temporal","scale":{"type":"utc","domain":["2019-01-24","2023-12-05"]},"axis":{"values":["2019-07-01","2020-01-01","2020-07-01","2021-01-01","2021-07-01","2022-01-01","2022-07-01","2023-01-01","2023-07-01"],"labelExpr":"[utcFormat(datum.value,'%b'),utcFormat(datum.value,'%Y')]"}},
"y":{"field":"v","type":"quantitative","scale":{"domain":[0.2043,0.3757],"nice":false,"zero":false},"axis":{"values":[0.22,0.24,0.26,0.28,0.3,0.32,0.34,0.36],"format":".2f"}},
"color":{"field":"m","type":"nominal","scale":{"domain":["BoM","ECCC","DWD","ECMWF","JMA","KMA","LOPS","METFR","NCEP","NIWA","UKMO","DMI","METNO"],"range":["#ffa500","#b0c4de","#00ffff","#ff0000","#adff2f","#808080","#ffff00","#ba55d3","#00fa9a","#d2b48c","#0000ff","#e6e6fa","#ffc0cb"]}}}},
{"width":414,"height":240,"title":{"text":["Root mean square error \u00a0|\u00a0 10m wind speed | North Sea","T+72 \u00a0|\u00a0 waveapi lw wave prod 00z"]},"data":{"name":"rm"},
"mark":{"type":"line","strokeWidth":2.8,"point":{"shape":"cross","size":14,"filled":true}},
"encoding":{"x":{"field":"d","type":"temporal","scale":{"type":"utc","domain":["2019-01-24","2023-12-05"]},"axis":{"values":["2019-07-01","2020-01-01","2020-07-01","2021-01-01","2021-07-01","2022-01-01","2022-07-01","2023-01-01","2023-07-01"],"labelExpr":"[utcFormat(datum.value,'%b'),utcFormat(datum.value,'%Y')]"}},
"y":{"field":"v","type":"quantitative","scale":{"domain":[1.903,3.891],"nice":false,"zero":false},"axis":{"values":[2,2.25,2.5,2.75,3,3.25,3.5,3.75],"format":".2f"}},
"color":{"field":"m","type":"nominal","scale":{"domain":["BoM","ECCC","DWD","ECMWF","JMA","KMA","LOPS","METFR","NCEP","NIWA","UKMO","DMI","METNO"],"range":["#ffa500","#b0c4de","#00ffff","#ff0000","#adff2f","#808080","#ffff00","#ba55d3","#00fa9a","#d2b48c","#0000ff","#e6e6fa","#ffc0cb"]}}}}
]},
{"spacing":20,"hconcat":[
{"width":228,"height":10,"view":{"stroke":null},"data":{"values":[]},"mark":"point"},
{"width":414,"height":240,"title":{"text":["Mean error \u00a0|\u00a0 10m wind speed | North Sea","T+72 \u00a0|\u00a0 waveapi lw wave prod 00z"]},"data":{"name":"me"},
"mark":{"type":"line","strokeWidth":2.8,"point":{"shape":"cross","size":14,"filled":true}},
"encoding":{"x":{"field":"d","type":"temporal","scale":{"type":"utc","domain":["2019-01-24","2023-12-05"]},"axis":{"values":["2019-07-01","2020-01-01","2020-07-01","2021-01-01","2021-07-01","2022-01-01","2022-07-01","2023-01-01","2023-07-01"],"labelExpr":"[utcFormat(datum.value,'%b'),utcFormat(datum.value,'%Y')]"}},
"y":{"field":"v","type":"quantitative","scale":{"domain":[-0.729,1.301],"nice":false,"zero":false},"axis":{"values":[-0.5,-0.25,0,0.25,0.5,0.75,1,1.25],"format":".2f"}},
"color":{"field":"m","type":"nominal","legend":{"offset":-3},"scale":{"domain":["BoM","ECCC","DWD","ECMWF","JMA","KMA","LOPS","METFR","NCEP","NIWA","UKMO","DMI","METNO"],"range":["#ffa500","#b0c4de","#00ffff","#ff0000","#adff2f","#808080","#ffff00","#ba55d3","#00fa9a","#d2b48c","#0000ff","#e6e6fa","#ffc0cb"]}}}}
]}
]}
